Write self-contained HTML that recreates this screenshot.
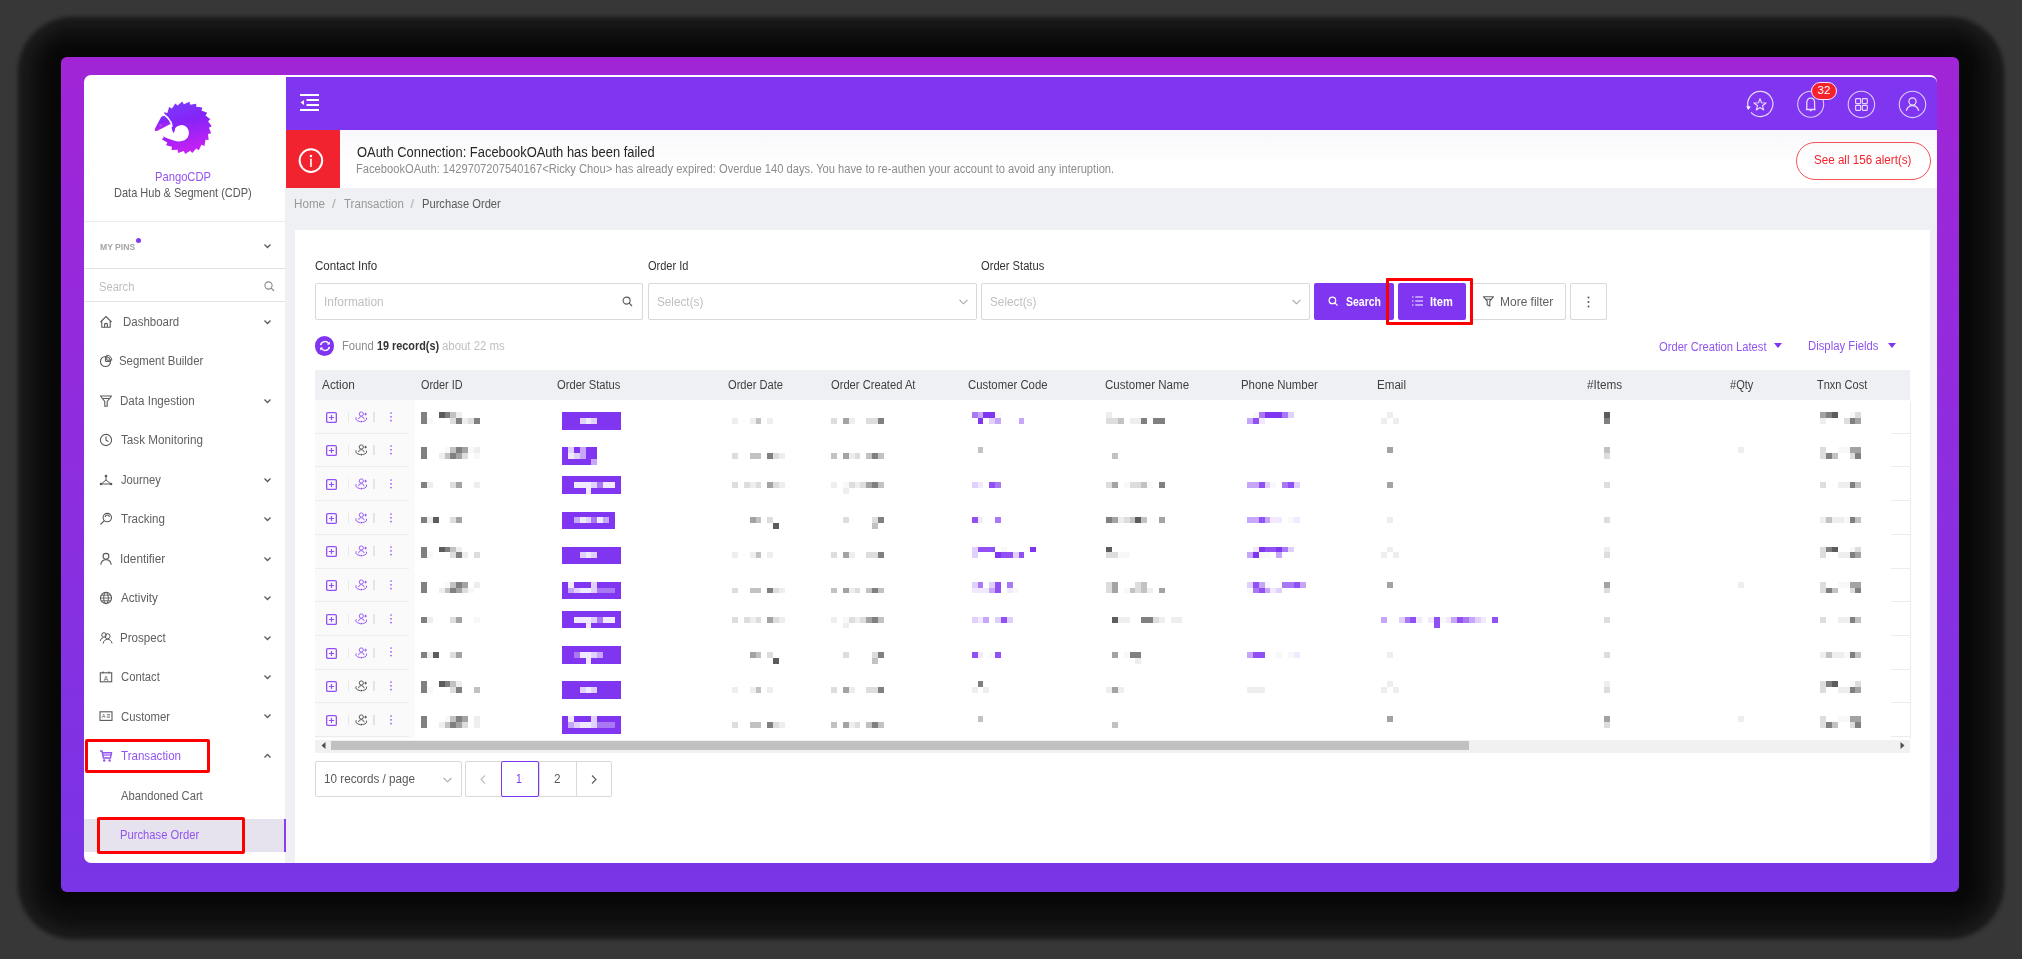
<!DOCTYPE html>
<html><head><meta charset="utf-8">
<style>
*{margin:0;padding:0;box-sizing:border-box}
html,body{width:2022px;height:959px;overflow:hidden;background:#373737;font-family:"Liberation Sans",sans-serif}
.abs{position:absolute}
.ic{position:absolute;overflow:visible}
.mi{position:absolute;font-size:12px;line-height:16px;white-space:nowrap;letter-spacing:-0.4px}
.th{position:absolute;font-size:12px;line-height:16px;color:#444;white-space:nowrap;letter-spacing:-0.1px}
.t{position:absolute;white-space:nowrap;transform-origin:0 0}
.mz{position:absolute}
</style></head><body>
<!-- shadow approximation -->
<div class="abs" style="left:18px;top:17px;width:1986px;height:922px;background:#1a1a1a;border-radius:55px;filter:blur(2px)"></div>
<div class="abs" style="left:30px;top:28px;width:1962px;height:900px;background:#0f0f0f;border-radius:45px;filter:blur(6px)"></div>
<div class="abs" style="left:45px;top:42px;width:1932px;height:866px;background:#070707;border-radius:25px;filter:blur(6px)"></div>
<!-- purple frame -->
<div class="abs" style="left:61px;top:57px;width:1898px;height:834.5px;border-radius:6px;background:linear-gradient(180deg,#a125d7 0%,#8d2edf 50%,#7935e6 100%)"></div>
<!-- white panel -->
<div class="abs" style="left:84px;top:75px;width:1853px;height:788px;border-radius:7px;background:#fff;overflow:hidden">
</div>
<!-- main content bg -->
<div class="abs" style="left:285px;top:188px;width:1652px;height:675px;background:#eff0f4;border-bottom-right-radius:7px"></div>
<!-- header -->
<div class="abs" style="left:286px;top:77px;width:1651px;height:53px;background:#8035f1;border-top-right-radius:6px"></div>
<!-- alert -->
<div class="abs" style="left:286px;top:130px;width:54px;height:58px;background:#f0232f"></div>
<div class="abs" style="left:340px;top:130px;width:1597px;height:58px;background:linear-gradient(180deg,#f8f8fb,#ffffff 60%)"></div>
<!-- card -->
<div class="abs" style="left:295px;top:230px;width:1635px;height:633px;background:#fff"></div>

<!-- header icons -->
<svg class="ic" style="left:300px;top:94px" width="20" height="17" viewBox="0 0 20 17">
  <path d="M0 1 H19 M6.5 6 H19 M6.5 11 H19 M0 16 H19" stroke="#fff" stroke-width="1.8"/>
  <path d="M0.5 8.5 L4 6 V11 Z" fill="#fff"/>
</svg>
<svg class="ic" style="left:1745px;top:90.2px" width="30" height="30" viewBox="0 0 30 30">
  <path d="M3.4 18 A12.6 12.6 0 1 1 6.0 22.4" fill="none" stroke="#e6dafc" stroke-width="1.2"/>
  <path d="M1.2 16.2 L5.8 16.6 L3.2 20 Z" fill="#fff"/>
  <path d="M15.00 8.60 L16.53 12.80 L20.99 12.95 L17.47 15.70 L18.70 20.00 L15.00 17.50 L11.30 20.00 L12.53 15.70 L9.01 12.95 L13.47 12.80 Z" fill="none" stroke="#e6dafc" stroke-width="1.1" stroke-linejoin="round"/>
</svg>
<svg class="ic" style="left:1796px;top:89px" width="30" height="30" viewBox="0 0 30 30">
  <circle cx="14.7" cy="15.2" r="13" fill="none" stroke="#dccdfb" stroke-width="1.1"/>
  <path d="M10.8 20.5 V14 Q10.8 9.2 14.7 9.2 Q18.6 9.2 18.6 14 V20.5 Z M9.8 20.5 H19.6 M13.7 21.6 H15.7" fill="none" stroke="#e4d8fc" stroke-width="1.3" stroke-linejoin="round"/>
</svg>
<div class="abs" style="left:1811px;top:82px;width:26px;height:17.5px;border-radius:9px;background:#f5222d;border:1px solid #f2e8ff;color:#fff;font-size:11.5px;line-height:15.5px;text-align:center">32</div>
<svg class="ic" style="left:1847px;top:90px" width="30" height="30" viewBox="0 0 30 30">
  <circle cx="14.4" cy="14.4" r="13.2" fill="none" stroke="#dccdfb" stroke-width="1.1"/>
  <rect x="8.6" y="8.6" width="5" height="5" rx="0.8" fill="none" stroke="#e4d8fc" stroke-width="1.2"/>
  <rect x="15.3" y="8.6" width="5" height="5" rx="0.8" fill="none" stroke="#e4d8fc" stroke-width="1.2"/>
  <rect x="8.6" y="15.3" width="5" height="5" rx="0.8" fill="none" stroke="#e4d8fc" stroke-width="1.2"/>
  <rect x="15.3" y="15.3" width="5" height="5" rx="0.8" fill="none" stroke="#e4d8fc" stroke-width="1.2"/>
</svg>
<svg class="ic" style="left:1898px;top:90px" width="30" height="30" viewBox="0 0 30 30">
  <circle cx="14.5" cy="14.4" r="13.2" fill="none" stroke="#dccdfb" stroke-width="1.1"/>
  <circle cx="14.5" cy="11.5" r="3.6" fill="none" stroke="#ece4fd" stroke-width="1.2"/>
  <path d="M8.3 20.8 Q9.5 15.6 14.5 15.6 Q19.5 15.6 20.7 20.8" fill="none" stroke="#ece4fd" stroke-width="1.2"/>
</svg>

<!-- alert content -->
<svg class="ic" style="left:298px;top:148px" width="26" height="26" viewBox="0 0 26 26">
  <circle cx="12.9" cy="12.6" r="11.3" fill="none" stroke="#fff" stroke-width="2"/>
  <rect x="12.15" y="10.7" width="1.6" height="8.3" fill="#fff"/>
  <circle cx="12.95" cy="7.9" r="1.25" fill="#fff"/>
</svg>
<div class="abs" style="left:1795.5px;top:142.3px;width:135px;height:37.5px;border:1px solid #f5535c;border-radius:19px;"></div>

<!-- breadcrumb -->

<!-- sidebar -->
<svg class="ic" style="left:148px;top:95px" width="70" height="65" viewBox="0 0 1033 959">
<defs><linearGradient id="lg" x1="0" y1="0" x2="0.25" y2="1"><stop offset="0" stop-color="#7a40fa"/><stop offset="0.45" stop-color="#8424f8"/><stop offset="1" stop-color="#c421f4"/></linearGradient></defs>
<path d="M899 482 L932 566 L886 575 L895 665 L849 662 L833 751 L789 735 L750 816 L712 789 L653 857 L623 821 L548 870 L529 827 L443 854 L437 808 L347 811 L353 765 L266 743 L285 700 L206 656 L236 620 L172 556 L210 529 L166 450 L210 435 L189 347 L236 344 L239 254 L285 264 L312 178 L353 199 L403 124 L437 156 L505 97 L529 137 L611 98 L623 143 L712 128 L712 175 L802 184 L789 229 L873 263 L849 302 L920 357 L886 389 L940 461 Z" fill="url(#lg)"/>
<path d="M 95 545 L 135 528 L 325 428 L 345 448 L 352 500 L 372 560 L 392 540 L 402 488 Q 430 448 495 444 Q 580 450 603 540 Q 612 625 540 668 Q 470 700 380 672 Q 260 640 170 575 Z" fill="#fff"/>
<path d="M 232 282 Q 300 330 338 405 Q 352 440 350 470" fill="none" stroke="#fff" stroke-width="26"/>
<path d="M 100 522 Q 96 500 112 478 L 192 330 Q 212 300 240 312 L 300 370 Q 330 405 322 428 L 140 528 Q 112 540 100 522 Z" fill="url(#lg)"/>
<circle cx="185" cy="445" r="14" fill="none" stroke="#c9a9fb" stroke-width="5"/>
</svg>
<div class="abs" style="left:84px;top:221px;width:201px;height:1px;background:#ebebeb"></div>
<div class="abs" style="left:135.5px;top:237.5px;width:5px;height:5px;border-radius:50%;background:#7f3af4"></div>
<svg class="ic" style="left:264px;top:243px" width="7" height="6" viewBox="0 0 7 6"><path d="M0.5 1.5 L3.5 4.5 L6.5 1.5" fill="none" stroke="#595959" stroke-width="1.3"/></svg>
<div class="abs" style="left:84px;top:268px;width:201px;height:1px;background:#e3e3e3"></div>
<svg class="ic" style="left:264px;top:281px" width="11" height="11" viewBox="0 0 11 11"><circle cx="4.5" cy="4.5" r="3.6" fill="none" stroke="#8c8c8c" stroke-width="1.1"/><path d="M7.2 7.2 L10 10" stroke="#8c8c8c" stroke-width="1.2"/></svg>
<div class="abs" style="left:84px;top:301px;width:201px;height:1px;background:#e3e3e3"></div>
<div class="abs" style="left:84px;top:818.5px;width:201px;height:33px;background:#e6e2ee"></div>
<div class="abs" style="left:283.5px;top:818.5px;width:2px;height:33px;background:#8b3cf0"></div>
<svg class="ic" style="left:99px;top:314.7px" width="14" height="14" viewBox="0 0 14 14"><path d="M1.5 7 L7 1.6 L12.5 7 M2.8 5.8 V12.3 H11.2 V5.8 M5.6 12.3 V9 Q7 7.6 8.4 9 V12.3" fill="none" stroke="#595959" stroke-width="1.1"/></svg>
<svg class="ic" style="left:264px;top:318.7px" width="7" height="6" viewBox="0 0 7 6"><path d="M0.5 1.5 L3.5 4.5 L6.5 1.5" fill="none" stroke="#595959" stroke-width="1.3"/></svg>
<svg class="ic" style="left:99px;top:354.2px" width="14" height="14" viewBox="0 0 14 14"><circle cx="6.5" cy="7.5" r="5" fill="none" stroke="#595959" stroke-width="1.1"/><path d="M6.5 7.5 V2.5 M6.5 7.5 H11.5" stroke="#595959" stroke-width="1.1"/><path d="M7.8 1.2 A5 5 0 0 1 12.8 6.2 H7.8 Z" fill="none" stroke="#595959" stroke-width="1"/></svg>
<svg class="ic" style="left:99px;top:393.6px" width="14" height="14" viewBox="0 0 14 14"><path d="M1.5 2 H12.5 L8.2 7.5 V12.2 H5.8 V7.5 Z M3.2 4.5 H10.8" fill="none" stroke="#595959" stroke-width="1.1" stroke-linejoin="round"/></svg>
<svg class="ic" style="left:264px;top:397.6px" width="7" height="6" viewBox="0 0 7 6"><path d="M0.5 1.5 L3.5 4.5 L6.5 1.5" fill="none" stroke="#595959" stroke-width="1.3"/></svg>
<svg class="ic" style="left:99px;top:433.1px" width="14" height="14" viewBox="0 0 14 14"><circle cx="7" cy="7" r="5.6" fill="none" stroke="#595959" stroke-width="1.1"/><path d="M7 3.6 V7.2 L9.4 8.6" fill="none" stroke="#595959" stroke-width="1.1"/></svg>
<svg class="ic" style="left:99px;top:472.6px" width="14" height="14" viewBox="0 0 14 14"><circle cx="7" cy="3" r="1.3" fill="#595959"/><circle cx="2" cy="11" r="1.3" fill="#595959"/><circle cx="12" cy="11" r="1.3" fill="#595959"/><path d="M7 3 V7 L2 11 M7 7 L12 11 M3 11 H11" fill="none" stroke="#595959" stroke-width="1"/></svg>
<svg class="ic" style="left:264px;top:476.6px" width="7" height="6" viewBox="0 0 7 6"><path d="M0.5 1.5 L3.5 4.5 L6.5 1.5" fill="none" stroke="#595959" stroke-width="1.3"/></svg>
<svg class="ic" style="left:99px;top:512.0px" width="14" height="14" viewBox="0 0 14 14"><circle cx="8.3" cy="5.6" r="4.2" fill="none" stroke="#595959" stroke-width="1.1"/><path d="M5.3 8.6 L1.5 12.5 M6.3 5 A2 2 0 0 1 10.3 5" fill="none" stroke="#595959" stroke-width="1.1"/></svg>
<svg class="ic" style="left:264px;top:516.0px" width="7" height="6" viewBox="0 0 7 6"><path d="M0.5 1.5 L3.5 4.5 L6.5 1.5" fill="none" stroke="#595959" stroke-width="1.3"/></svg>
<svg class="ic" style="left:99px;top:551.5px" width="14" height="14" viewBox="0 0 14 14"><circle cx="7" cy="4.3" r="2.9" fill="none" stroke="#595959" stroke-width="1.1"/><path d="M1.8 12.8 Q2.3 7.8 7 7.8 Q11.7 7.8 12.2 12.8" fill="none" stroke="#595959" stroke-width="1.1"/></svg>
<svg class="ic" style="left:264px;top:555.5px" width="7" height="6" viewBox="0 0 7 6"><path d="M0.5 1.5 L3.5 4.5 L6.5 1.5" fill="none" stroke="#595959" stroke-width="1.3"/></svg>
<svg class="ic" style="left:99px;top:591.0px" width="14" height="14" viewBox="0 0 14 14"><circle cx="7" cy="7" r="5.6" fill="none" stroke="#595959" stroke-width="1.1"/><ellipse cx="7" cy="7" rx="2.3" ry="5.6" fill="none" stroke="#595959" stroke-width="1"/><path d="M1.4 7 H12.6 M2.2 4.2 H11.8 M2.2 9.8 H11.8" stroke="#595959" stroke-width="0.9"/></svg>
<svg class="ic" style="left:264px;top:595.0px" width="7" height="6" viewBox="0 0 7 6"><path d="M0.5 1.5 L3.5 4.5 L6.5 1.5" fill="none" stroke="#595959" stroke-width="1.3"/></svg>
<svg class="ic" style="left:99px;top:630.5px" width="14" height="14" viewBox="0 0 14 14"><circle cx="5" cy="4" r="2.3" fill="none" stroke="#595959" stroke-width="1"/><circle cx="8.6" cy="5.2" r="2.5" fill="none" stroke="#595959" stroke-width="1"/><path d="M1.2 10 Q1.8 6.8 4.3 6.7 M4.2 12.5 Q4.8 8.4 8.6 8.4 Q12.4 8.4 13 12.5" fill="none" stroke="#595959" stroke-width="1"/></svg>
<svg class="ic" style="left:264px;top:634.5px" width="7" height="6" viewBox="0 0 7 6"><path d="M0.5 1.5 L3.5 4.5 L6.5 1.5" fill="none" stroke="#595959" stroke-width="1.3"/></svg>
<svg class="ic" style="left:99px;top:669.9px" width="14" height="14" viewBox="0 0 14 14"><rect x="1.3" y="2.8" width="11.4" height="9" fill="none" stroke="#595959" stroke-width="1.1"/><path d="M4 1.5 V3.5 M10 1.5 V3.5" stroke="#595959" stroke-width="1.1"/><text x="7" y="10.6" font-size="6.5" text-anchor="middle" fill="#595959" font-family="Liberation Sans">A</text></svg>
<svg class="ic" style="left:264px;top:673.9px" width="7" height="6" viewBox="0 0 7 6"><path d="M0.5 1.5 L3.5 4.5 L6.5 1.5" fill="none" stroke="#595959" stroke-width="1.3"/></svg>
<svg class="ic" style="left:99px;top:709.4px" width="14" height="14" viewBox="0 0 14 14"><rect x="1" y="2.8" width="12" height="8.6" fill="none" stroke="#595959" stroke-width="1.1"/><text x="4.7" y="9.4" font-size="5.5" text-anchor="middle" fill="#595959" font-family="Liberation Sans">A</text><path d="M7.8 5.8 H11 M7.8 8 H11" stroke="#595959" stroke-width="0.9"/></svg>
<svg class="ic" style="left:264px;top:713.4px" width="7" height="6" viewBox="0 0 7 6"><path d="M0.5 1.5 L3.5 4.5 L6.5 1.5" fill="none" stroke="#595959" stroke-width="1.3"/></svg>
<svg class="ic" style="left:99px;top:748.9px" width="14" height="14" viewBox="0 0 14 14"><path d="M1 2 H3 L4.4 9 H11.4 L12.6 3.8 H3.6" fill="none" stroke="#9254f0" stroke-width="1.4" stroke-linejoin="round"/><path d="M4 6 H12" stroke="#9254f0" stroke-width="1.2"/><circle cx="5.2" cy="11.5" r="1.2" fill="#9254f0"/><circle cx="10.6" cy="11.5" r="1.2" fill="#9254f0"/></svg>
<svg class="ic" style="left:264px;top:752.9px" width="7" height="6" viewBox="0 0 7 6"><path d="M0.5 4.5 L3.5 1.5 L6.5 4.5" fill="none" stroke="#595959" stroke-width="1.3"/></svg>
<!-- red boxes -->
<div class="abs" style="left:84.5px;top:739px;width:125px;height:34px;border:3px solid #ff0000;border-radius:2px"></div>
<div class="abs" style="left:96.5px;top:816.5px;width:148px;height:37px;border:3px solid #ff0000;border-radius:2px"></div>

<!-- filter row -->
<div class="abs" style="left:315px;top:283px;width:328px;height:36.5px;border:1px solid #d9d9d9;border-radius:2px"></div>
<svg class="ic" style="left:622px;top:296px" width="11" height="11" viewBox="0 0 11 11"><circle cx="4.6" cy="4.6" r="3.5" fill="none" stroke="#595959" stroke-width="1.1"/><path d="M7.2 7.2 L10 10" stroke="#595959" stroke-width="1.2"/></svg>
<div class="abs" style="left:648px;top:283px;width:328.5px;height:36.5px;border:1px solid #d9d9d9;border-radius:2px"></div>
<svg class="ic" style="left:958.5px;top:298.5px" width="9" height="6" viewBox="0 0 9 6"><path d="M0.5 0.8 L4.5 4.8 L8.5 0.8" fill="none" stroke="#a6a6a6" stroke-width="1.1"/></svg>
<div class="abs" style="left:981.3px;top:283px;width:329px;height:36.5px;border:1px solid #d9d9d9;border-radius:2px"></div>
<svg class="ic" style="left:1291.5px;top:298.5px" width="9" height="6" viewBox="0 0 9 6"><path d="M0.5 0.8 L4.5 4.8 L8.5 0.8" fill="none" stroke="#a6a6a6" stroke-width="1.1"/></svg>
<!-- buttons -->
<div class="abs" style="left:1314.2px;top:283px;width:79.5px;height:36.8px;background:#8035f1;border-radius:2px"></div>
<svg class="ic" style="left:1328px;top:296px" width="11" height="11" viewBox="0 0 11 11"><circle cx="4.4" cy="4.4" r="3.3" fill="none" stroke="#fff" stroke-width="1.2"/><path d="M6.9 6.9 L9.6 9.6" stroke="#fff" stroke-width="1.3"/></svg>
<div class="abs" style="left:1398px;top:283px;width:67.8px;height:36.8px;background:#8035f1;border-radius:2px"></div>
<svg class="ic" style="left:1411.5px;top:296px" width="12" height="10" viewBox="0 0 12 10"><path d="M0 1 H1.5 M0 5 H1.5 M0 9 H1.5 M3.3 1 H11 M3.3 5 H11 M3.3 9 H11" stroke="#fff" stroke-width="1.2"/></svg>
<div class="abs" style="left:1472px;top:283px;width:94px;height:36.8px;border:1px solid #d9d9d9;border-radius:2px;background:#fff"></div>
<svg class="ic" style="left:1482.5px;top:295.5px" width="11" height="11" viewBox="0 0 11 11"><path d="M0.6 0.8 H10.4 L6.8 5.2 V10 L4.2 8.8 V5.2 Z M2.6 3.2 H8.4" fill="none" stroke="#595959" stroke-width="1.1" stroke-linejoin="round"/></svg>
<div class="abs" style="left:1570.3px;top:283px;width:37px;height:36.8px;border:1px solid #d9d9d9;border-radius:2px;background:#fff"></div>
<svg class="ic" style="left:1587px;top:295.5px" width="3" height="12" viewBox="0 0 3 12"><circle cx="1.5" cy="1.4" r="1" fill="#595959"/><circle cx="1.5" cy="6" r="1" fill="#595959"/><circle cx="1.5" cy="10.6" r="1" fill="#595959"/></svg>
<div class="abs" style="left:1386.2px;top:278.2px;width:86.6px;height:46.7px;border:3.2px solid #ff0000;border-radius:1px"></div>

<!-- found row -->
<div class="abs" style="left:314.7px;top:335.8px;width:19.8px;height:19.8px;border-radius:50%;background:#8035f1"></div>
<svg class="ic" style="left:318.6px;top:339.7px" width="12" height="12" viewBox="0 0 12 12"><path d="M1.6 5.2 A4.5 4.5 0 0 1 10 4 M10.4 6.8 A4.5 4.5 0 0 1 2 8" fill="none" stroke="#fff" stroke-width="1.5"/><path d="M10.8 1.6 V4.6 H7.8 Z M1.2 10.4 V7.4 H4.2 Z" fill="#fff"/></svg>
<svg class="ic" style="left:1773.5px;top:343px" width="8" height="5" viewBox="0 0 8 5"><path d="M0 0 H8 L4 5 Z" fill="#8035f1"/></svg>
<svg class="ic" style="left:1887.5px;top:342.5px" width="8" height="5" viewBox="0 0 8 5"><path d="M0 0 H8 L4 5 Z" fill="#8035f1"/></svg>

<!-- table -->
<div class="abs" style="left:315px;top:369.5px;width:1595px;height:30.5px;background:#eff0f4"></div>
<div class="abs" style="left:315px;top:400.0px;width:100px;height:337.5px;background:#fafafa"></div>
<div class="abs" style="left:315px;top:432.7px;width:94px;height:1px;background:#ececec"></div>
<div class="abs" style="left:1891px;top:432.7px;width:19px;height:1px;background:#ececec"></div>
<svg class="ic" style="left:326px;top:411.7px" width="11" height="11" viewBox="0 0 11 11"><rect x="0.65" y="0.65" width="9.7" height="9.7" rx="1.2" fill="none" stroke="#9350f4" stroke-width="1.3"/><path d="M5.5 2.9 V8.1 M2.9 5.5 H8.1" stroke="#9350f4" stroke-width="1.2"/></svg>
<div class="abs" style="left:348px;top:411.6px;width:1px;height:10px;background:#e9e9e9"></div>
<svg class="ic" style="left:355px;top:410.7px" width="13" height="12" viewBox="0 0 13 12"><circle cx="6.3" cy="3" r="2.1" fill="none" stroke="#9350f4" stroke-width="0.9"/><path d="M3.4 8.2 Q3.9 5.6 6.3 5.6 Q8.7 5.6 9.2 8.2" fill="none" stroke="#9350f4" stroke-width="0.9"/><path d="M1.2 6.2 Q-0.4 9.6 5.2 10.6 M7.4 10.6 Q12.6 9.8 11.4 6.6" fill="none" stroke="#9350f4" stroke-width="0.9"/><circle cx="6.3" cy="10.6" r="0.9" fill="#9350f4"/><path d="M10.6 1.8 V4.4 M9.3 3.1 H11.9" stroke="#9350f4" stroke-width="0.9"/></svg>
<div class="abs" style="left:373.3px;top:411.6px;width:1.3px;height:10px;background:#e4e4e4"></div>
<svg class="ic" style="left:389.5px;top:411.5px" width="2" height="11" viewBox="0 0 2 11"><circle cx="1" cy="1" r="0.85" fill="#9350f4"/><circle cx="1" cy="4.8" r="0.85" fill="#9350f4"/><circle cx="1" cy="8.6" r="0.85" fill="#9350f4"/></svg>
<div class="abs" style="left:315px;top:466.4px;width:94px;height:1px;background:#ececec"></div>
<div class="abs" style="left:1891px;top:466.4px;width:19px;height:1px;background:#ececec"></div>
<svg class="ic" style="left:326px;top:445.4px" width="11" height="11" viewBox="0 0 11 11"><rect x="0.65" y="0.65" width="9.7" height="9.7" rx="1.2" fill="none" stroke="#9350f4" stroke-width="1.3"/><path d="M5.5 2.9 V8.1 M2.9 5.5 H8.1" stroke="#9350f4" stroke-width="1.2"/></svg>
<div class="abs" style="left:348px;top:445.2px;width:1px;height:10px;background:#e9e9e9"></div>
<svg class="ic" style="left:355px;top:444.4px" width="13" height="12" viewBox="0 0 13 12"><circle cx="6.3" cy="3" r="2.1" fill="none" stroke="#4a4a4a" stroke-width="0.9"/><path d="M3.4 8.2 Q3.9 5.6 6.3 5.6 Q8.7 5.6 9.2 8.2" fill="none" stroke="#4a4a4a" stroke-width="0.9"/><path d="M1.2 6.2 Q-0.4 9.6 5.2 10.6 M7.4 10.6 Q12.6 9.8 11.4 6.6" fill="none" stroke="#4a4a4a" stroke-width="0.9"/><circle cx="6.3" cy="10.6" r="0.9" fill="#4a4a4a"/><path d="M10.6 1.8 V4.4 M9.3 3.1 H11.9" stroke="#4a4a4a" stroke-width="0.9"/></svg>
<div class="abs" style="left:373.3px;top:445.2px;width:1.3px;height:10px;background:#e4e4e4"></div>
<svg class="ic" style="left:389.5px;top:445.2px" width="2" height="11" viewBox="0 0 2 11"><circle cx="1" cy="1" r="0.85" fill="#9350f4"/><circle cx="1" cy="4.8" r="0.85" fill="#9350f4"/><circle cx="1" cy="8.6" r="0.85" fill="#9350f4"/></svg>
<div class="abs" style="left:315px;top:500.1px;width:94px;height:1px;background:#ececec"></div>
<div class="abs" style="left:1891px;top:500.1px;width:19px;height:1px;background:#ececec"></div>
<svg class="ic" style="left:326px;top:479.1px" width="11" height="11" viewBox="0 0 11 11"><rect x="0.65" y="0.65" width="9.7" height="9.7" rx="1.2" fill="none" stroke="#9350f4" stroke-width="1.3"/><path d="M5.5 2.9 V8.1 M2.9 5.5 H8.1" stroke="#9350f4" stroke-width="1.2"/></svg>
<div class="abs" style="left:348px;top:478.9px;width:1px;height:10px;background:#e9e9e9"></div>
<svg class="ic" style="left:355px;top:478.1px" width="13" height="12" viewBox="0 0 13 12"><circle cx="6.3" cy="3" r="2.1" fill="none" stroke="#9350f4" stroke-width="0.9"/><path d="M3.4 8.2 Q3.9 5.6 6.3 5.6 Q8.7 5.6 9.2 8.2" fill="none" stroke="#9350f4" stroke-width="0.9"/><path d="M1.2 6.2 Q-0.4 9.6 5.2 10.6 M7.4 10.6 Q12.6 9.8 11.4 6.6" fill="none" stroke="#9350f4" stroke-width="0.9"/><circle cx="6.3" cy="10.6" r="0.9" fill="#9350f4"/><path d="M10.6 1.8 V4.4 M9.3 3.1 H11.9" stroke="#9350f4" stroke-width="0.9"/></svg>
<div class="abs" style="left:373.3px;top:478.9px;width:1.3px;height:10px;background:#e4e4e4"></div>
<svg class="ic" style="left:389.5px;top:478.9px" width="2" height="11" viewBox="0 0 2 11"><circle cx="1" cy="1" r="0.85" fill="#9350f4"/><circle cx="1" cy="4.8" r="0.85" fill="#9350f4"/><circle cx="1" cy="8.6" r="0.85" fill="#9350f4"/></svg>
<div class="abs" style="left:315px;top:533.8px;width:94px;height:1px;background:#ececec"></div>
<div class="abs" style="left:1891px;top:533.8px;width:19px;height:1px;background:#ececec"></div>
<svg class="ic" style="left:326px;top:512.8px" width="11" height="11" viewBox="0 0 11 11"><rect x="0.65" y="0.65" width="9.7" height="9.7" rx="1.2" fill="none" stroke="#9350f4" stroke-width="1.3"/><path d="M5.5 2.9 V8.1 M2.9 5.5 H8.1" stroke="#9350f4" stroke-width="1.2"/></svg>
<div class="abs" style="left:348px;top:512.7px;width:1px;height:10px;background:#e9e9e9"></div>
<svg class="ic" style="left:355px;top:511.8px" width="13" height="12" viewBox="0 0 13 12"><circle cx="6.3" cy="3" r="2.1" fill="none" stroke="#9350f4" stroke-width="0.9"/><path d="M3.4 8.2 Q3.9 5.6 6.3 5.6 Q8.7 5.6 9.2 8.2" fill="none" stroke="#9350f4" stroke-width="0.9"/><path d="M1.2 6.2 Q-0.4 9.6 5.2 10.6 M7.4 10.6 Q12.6 9.8 11.4 6.6" fill="none" stroke="#9350f4" stroke-width="0.9"/><circle cx="6.3" cy="10.6" r="0.9" fill="#9350f4"/><path d="M10.6 1.8 V4.4 M9.3 3.1 H11.9" stroke="#9350f4" stroke-width="0.9"/></svg>
<div class="abs" style="left:373.3px;top:512.7px;width:1.3px;height:10px;background:#e4e4e4"></div>
<svg class="ic" style="left:389.5px;top:512.6px" width="2" height="11" viewBox="0 0 2 11"><circle cx="1" cy="1" r="0.85" fill="#9350f4"/><circle cx="1" cy="4.8" r="0.85" fill="#9350f4"/><circle cx="1" cy="8.6" r="0.85" fill="#9350f4"/></svg>
<div class="abs" style="left:315px;top:567.5px;width:94px;height:1px;background:#ececec"></div>
<div class="abs" style="left:1891px;top:567.5px;width:19px;height:1px;background:#ececec"></div>
<svg class="ic" style="left:326px;top:546.4px" width="11" height="11" viewBox="0 0 11 11"><rect x="0.65" y="0.65" width="9.7" height="9.7" rx="1.2" fill="none" stroke="#9350f4" stroke-width="1.3"/><path d="M5.5 2.9 V8.1 M2.9 5.5 H8.1" stroke="#9350f4" stroke-width="1.2"/></svg>
<div class="abs" style="left:348px;top:546.4px;width:1px;height:10px;background:#e9e9e9"></div>
<svg class="ic" style="left:355px;top:545.4px" width="13" height="12" viewBox="0 0 13 12"><circle cx="6.3" cy="3" r="2.1" fill="none" stroke="#9350f4" stroke-width="0.9"/><path d="M3.4 8.2 Q3.9 5.6 6.3 5.6 Q8.7 5.6 9.2 8.2" fill="none" stroke="#9350f4" stroke-width="0.9"/><path d="M1.2 6.2 Q-0.4 9.6 5.2 10.6 M7.4 10.6 Q12.6 9.8 11.4 6.6" fill="none" stroke="#9350f4" stroke-width="0.9"/><circle cx="6.3" cy="10.6" r="0.9" fill="#9350f4"/><path d="M10.6 1.8 V4.4 M9.3 3.1 H11.9" stroke="#9350f4" stroke-width="0.9"/></svg>
<div class="abs" style="left:373.3px;top:546.4px;width:1.3px;height:10px;background:#e4e4e4"></div>
<svg class="ic" style="left:389.5px;top:546.2px" width="2" height="11" viewBox="0 0 2 11"><circle cx="1" cy="1" r="0.85" fill="#9350f4"/><circle cx="1" cy="4.8" r="0.85" fill="#9350f4"/><circle cx="1" cy="8.6" r="0.85" fill="#9350f4"/></svg>
<div class="abs" style="left:315px;top:601.2px;width:94px;height:1px;background:#ececec"></div>
<div class="abs" style="left:1891px;top:601.2px;width:19px;height:1px;background:#ececec"></div>
<svg class="ic" style="left:326px;top:580.1px" width="11" height="11" viewBox="0 0 11 11"><rect x="0.65" y="0.65" width="9.7" height="9.7" rx="1.2" fill="none" stroke="#9350f4" stroke-width="1.3"/><path d="M5.5 2.9 V8.1 M2.9 5.5 H8.1" stroke="#9350f4" stroke-width="1.2"/></svg>
<div class="abs" style="left:348px;top:580.1px;width:1px;height:10px;background:#e9e9e9"></div>
<svg class="ic" style="left:355px;top:579.1px" width="13" height="12" viewBox="0 0 13 12"><circle cx="6.3" cy="3" r="2.1" fill="none" stroke="#9350f4" stroke-width="0.9"/><path d="M3.4 8.2 Q3.9 5.6 6.3 5.6 Q8.7 5.6 9.2 8.2" fill="none" stroke="#9350f4" stroke-width="0.9"/><path d="M1.2 6.2 Q-0.4 9.6 5.2 10.6 M7.4 10.6 Q12.6 9.8 11.4 6.6" fill="none" stroke="#9350f4" stroke-width="0.9"/><circle cx="6.3" cy="10.6" r="0.9" fill="#9350f4"/><path d="M10.6 1.8 V4.4 M9.3 3.1 H11.9" stroke="#9350f4" stroke-width="0.9"/></svg>
<div class="abs" style="left:373.3px;top:580.1px;width:1.3px;height:10px;background:#e4e4e4"></div>
<svg class="ic" style="left:389.5px;top:580.0px" width="2" height="11" viewBox="0 0 2 11"><circle cx="1" cy="1" r="0.85" fill="#9350f4"/><circle cx="1" cy="4.8" r="0.85" fill="#9350f4"/><circle cx="1" cy="8.6" r="0.85" fill="#9350f4"/></svg>
<div class="abs" style="left:315px;top:634.9px;width:94px;height:1px;background:#ececec"></div>
<div class="abs" style="left:1891px;top:634.9px;width:19px;height:1px;background:#ececec"></div>
<svg class="ic" style="left:326px;top:613.9px" width="11" height="11" viewBox="0 0 11 11"><rect x="0.65" y="0.65" width="9.7" height="9.7" rx="1.2" fill="none" stroke="#9350f4" stroke-width="1.3"/><path d="M5.5 2.9 V8.1 M2.9 5.5 H8.1" stroke="#9350f4" stroke-width="1.2"/></svg>
<div class="abs" style="left:348px;top:613.8px;width:1px;height:10px;background:#e9e9e9"></div>
<svg class="ic" style="left:355px;top:612.9px" width="13" height="12" viewBox="0 0 13 12"><circle cx="6.3" cy="3" r="2.1" fill="none" stroke="#9350f4" stroke-width="0.9"/><path d="M3.4 8.2 Q3.9 5.6 6.3 5.6 Q8.7 5.6 9.2 8.2" fill="none" stroke="#9350f4" stroke-width="0.9"/><path d="M1.2 6.2 Q-0.4 9.6 5.2 10.6 M7.4 10.6 Q12.6 9.8 11.4 6.6" fill="none" stroke="#9350f4" stroke-width="0.9"/><circle cx="6.3" cy="10.6" r="0.9" fill="#9350f4"/><path d="M10.6 1.8 V4.4 M9.3 3.1 H11.9" stroke="#9350f4" stroke-width="0.9"/></svg>
<div class="abs" style="left:373.3px;top:613.8px;width:1.3px;height:10px;background:#e4e4e4"></div>
<svg class="ic" style="left:389.5px;top:613.7px" width="2" height="11" viewBox="0 0 2 11"><circle cx="1" cy="1" r="0.85" fill="#9350f4"/><circle cx="1" cy="4.8" r="0.85" fill="#9350f4"/><circle cx="1" cy="8.6" r="0.85" fill="#9350f4"/></svg>
<div class="abs" style="left:315px;top:668.6px;width:94px;height:1px;background:#ececec"></div>
<div class="abs" style="left:1891px;top:668.6px;width:19px;height:1px;background:#ececec"></div>
<svg class="ic" style="left:326px;top:647.6px" width="11" height="11" viewBox="0 0 11 11"><rect x="0.65" y="0.65" width="9.7" height="9.7" rx="1.2" fill="none" stroke="#9350f4" stroke-width="1.3"/><path d="M5.5 2.9 V8.1 M2.9 5.5 H8.1" stroke="#9350f4" stroke-width="1.2"/></svg>
<div class="abs" style="left:348px;top:647.5px;width:1px;height:10px;background:#e9e9e9"></div>
<svg class="ic" style="left:355px;top:646.6px" width="13" height="12" viewBox="0 0 13 12"><circle cx="6.3" cy="3" r="2.1" fill="none" stroke="#9350f4" stroke-width="0.9"/><path d="M3.4 8.2 Q3.9 5.6 6.3 5.6 Q8.7 5.6 9.2 8.2" fill="none" stroke="#9350f4" stroke-width="0.9"/><path d="M1.2 6.2 Q-0.4 9.6 5.2 10.6 M7.4 10.6 Q12.6 9.8 11.4 6.6" fill="none" stroke="#9350f4" stroke-width="0.9"/><circle cx="6.3" cy="10.6" r="0.9" fill="#9350f4"/><path d="M10.6 1.8 V4.4 M9.3 3.1 H11.9" stroke="#9350f4" stroke-width="0.9"/></svg>
<div class="abs" style="left:373.3px;top:647.5px;width:1.3px;height:10px;background:#e4e4e4"></div>
<svg class="ic" style="left:389.5px;top:647.4px" width="2" height="11" viewBox="0 0 2 11"><circle cx="1" cy="1" r="0.85" fill="#9350f4"/><circle cx="1" cy="4.8" r="0.85" fill="#9350f4"/><circle cx="1" cy="8.6" r="0.85" fill="#9350f4"/></svg>
<div class="abs" style="left:315px;top:702.3px;width:94px;height:1px;background:#ececec"></div>
<div class="abs" style="left:1891px;top:702.3px;width:19px;height:1px;background:#ececec"></div>
<svg class="ic" style="left:326px;top:681.2px" width="11" height="11" viewBox="0 0 11 11"><rect x="0.65" y="0.65" width="9.7" height="9.7" rx="1.2" fill="none" stroke="#9350f4" stroke-width="1.3"/><path d="M5.5 2.9 V8.1 M2.9 5.5 H8.1" stroke="#9350f4" stroke-width="1.2"/></svg>
<div class="abs" style="left:348px;top:681.2px;width:1px;height:10px;background:#e9e9e9"></div>
<svg class="ic" style="left:355px;top:680.2px" width="13" height="12" viewBox="0 0 13 12"><circle cx="6.3" cy="3" r="2.1" fill="none" stroke="#4a4a4a" stroke-width="0.9"/><path d="M3.4 8.2 Q3.9 5.6 6.3 5.6 Q8.7 5.6 9.2 8.2" fill="none" stroke="#4a4a4a" stroke-width="0.9"/><path d="M1.2 6.2 Q-0.4 9.6 5.2 10.6 M7.4 10.6 Q12.6 9.8 11.4 6.6" fill="none" stroke="#4a4a4a" stroke-width="0.9"/><circle cx="6.3" cy="10.6" r="0.9" fill="#4a4a4a"/><path d="M10.6 1.8 V4.4 M9.3 3.1 H11.9" stroke="#4a4a4a" stroke-width="0.9"/></svg>
<div class="abs" style="left:373.3px;top:681.2px;width:1.3px;height:10px;background:#e4e4e4"></div>
<svg class="ic" style="left:389.5px;top:681.1px" width="2" height="11" viewBox="0 0 2 11"><circle cx="1" cy="1" r="0.85" fill="#9350f4"/><circle cx="1" cy="4.8" r="0.85" fill="#9350f4"/><circle cx="1" cy="8.6" r="0.85" fill="#9350f4"/></svg>
<div class="abs" style="left:315px;top:736.0px;width:94px;height:1px;background:#ececec"></div>
<div class="abs" style="left:1891px;top:736.0px;width:19px;height:1px;background:#ececec"></div>
<svg class="ic" style="left:326px;top:714.9px" width="11" height="11" viewBox="0 0 11 11"><rect x="0.65" y="0.65" width="9.7" height="9.7" rx="1.2" fill="none" stroke="#9350f4" stroke-width="1.3"/><path d="M5.5 2.9 V8.1 M2.9 5.5 H8.1" stroke="#9350f4" stroke-width="1.2"/></svg>
<div class="abs" style="left:348px;top:714.9px;width:1px;height:10px;background:#e9e9e9"></div>
<svg class="ic" style="left:355px;top:713.9px" width="13" height="12" viewBox="0 0 13 12"><circle cx="6.3" cy="3" r="2.1" fill="none" stroke="#4a4a4a" stroke-width="0.9"/><path d="M3.4 8.2 Q3.9 5.6 6.3 5.6 Q8.7 5.6 9.2 8.2" fill="none" stroke="#4a4a4a" stroke-width="0.9"/><path d="M1.2 6.2 Q-0.4 9.6 5.2 10.6 M7.4 10.6 Q12.6 9.8 11.4 6.6" fill="none" stroke="#4a4a4a" stroke-width="0.9"/><circle cx="6.3" cy="10.6" r="0.9" fill="#4a4a4a"/><path d="M10.6 1.8 V4.4 M9.3 3.1 H11.9" stroke="#4a4a4a" stroke-width="0.9"/></svg>
<div class="abs" style="left:373.3px;top:714.9px;width:1.3px;height:10px;background:#e4e4e4"></div>
<svg class="ic" style="left:389.5px;top:714.8px" width="2" height="11" viewBox="0 0 2 11"><circle cx="1" cy="1" r="0.85" fill="#9350f4"/><circle cx="1" cy="4.8" r="0.85" fill="#9350f4"/><circle cx="1" cy="8.6" r="0.85" fill="#9350f4"/></svg>
<div class="mz" style="left:421px;top:412px;width:6px;height:6px;background:#808080"></div>
<div class="mz" style="left:439px;top:412px;width:6px;height:6px;background:#5c5c5c"></div>
<div class="mz" style="left:445px;top:412px;width:5px;height:6px;background:#808080"></div>
<div class="mz" style="left:450px;top:412px;width:6px;height:6px;background:#c2c2c2"></div>
<div class="mz" style="left:456px;top:412px;width:6px;height:6px;background:#eeeeee"></div>
<div class="mz" style="left:421px;top:418px;width:6px;height:6px;background:#808080"></div>
<div class="mz" style="left:427px;top:418px;width:6px;height:6px;background:#f8f8f8"></div>
<div class="mz" style="left:450px;top:418px;width:6px;height:6px;background:#dddddd"></div>
<div class="mz" style="left:456px;top:418px;width:6px;height:6px;background:#808080"></div>
<div class="mz" style="left:462px;top:418px;width:6px;height:6px;background:#eeeeee"></div>
<div class="mz" style="left:468px;top:418px;width:6px;height:6px;background:#dddddd"></div>
<div class="mz" style="left:474px;top:418px;width:6px;height:6px;background:#808080"></div>
<div class="mz" style="left:421px;top:447px;width:6px;height:6px;background:#808080"></div>
<div class="mz" style="left:445px;top:447px;width:5px;height:6px;background:#f8f8f8"></div>
<div class="mz" style="left:450px;top:447px;width:6px;height:6px;background:#c2c2c2"></div>
<div class="mz" style="left:456px;top:447px;width:6px;height:6px;background:#808080"></div>
<div class="mz" style="left:462px;top:447px;width:6px;height:6px;background:#a3a3a3"></div>
<div class="mz" style="left:468px;top:447px;width:6px;height:6px;background:#f8f8f8"></div>
<div class="mz" style="left:474px;top:447px;width:6px;height:6px;background:#eeeeee"></div>
<div class="mz" style="left:421px;top:453px;width:6px;height:6px;background:#808080"></div>
<div class="mz" style="left:439px;top:453px;width:6px;height:6px;background:#eeeeee"></div>
<div class="mz" style="left:445px;top:453px;width:5px;height:6px;background:#c2c2c2"></div>
<div class="mz" style="left:450px;top:453px;width:6px;height:6px;background:#808080"></div>
<div class="mz" style="left:456px;top:453px;width:6px;height:6px;background:#a3a3a3"></div>
<div class="mz" style="left:462px;top:453px;width:6px;height:6px;background:#dddddd"></div>
<div class="mz" style="left:474px;top:453px;width:6px;height:6px;background:#f8f8f8"></div>
<div class="mz" style="left:421px;top:482px;width:6px;height:6px;background:#808080"></div>
<div class="mz" style="left:427px;top:482px;width:6px;height:6px;background:#eeeeee"></div>
<div class="mz" style="left:450px;top:482px;width:6px;height:6px;background:#dddddd"></div>
<div class="mz" style="left:456px;top:482px;width:6px;height:6px;background:#a3a3a3"></div>
<div class="mz" style="left:474px;top:482px;width:6px;height:6px;background:#eeeeee"></div>
<div class="mz" style="left:421px;top:517px;width:6px;height:6px;background:#808080"></div>
<div class="mz" style="left:427px;top:517px;width:6px;height:6px;background:#eeeeee"></div>
<div class="mz" style="left:433px;top:517px;width:6px;height:6px;background:#5c5c5c"></div>
<div class="mz" style="left:450px;top:517px;width:6px;height:6px;background:#dddddd"></div>
<div class="mz" style="left:456px;top:517px;width:6px;height:6px;background:#a3a3a3"></div>
<div class="mz" style="left:421px;top:547px;width:6px;height:5px;background:#808080"></div>
<div class="mz" style="left:439px;top:547px;width:6px;height:5px;background:#5c5c5c"></div>
<div class="mz" style="left:445px;top:547px;width:5px;height:5px;background:#808080"></div>
<div class="mz" style="left:450px;top:547px;width:6px;height:5px;background:#c2c2c2"></div>
<div class="mz" style="left:456px;top:547px;width:6px;height:5px;background:#eeeeee"></div>
<div class="mz" style="left:421px;top:552px;width:6px;height:6px;background:#808080"></div>
<div class="mz" style="left:427px;top:552px;width:6px;height:6px;background:#f8f8f8"></div>
<div class="mz" style="left:450px;top:552px;width:6px;height:6px;background:#dddddd"></div>
<div class="mz" style="left:456px;top:552px;width:6px;height:6px;background:#808080"></div>
<div class="mz" style="left:462px;top:552px;width:6px;height:6px;background:#eeeeee"></div>
<div class="mz" style="left:474px;top:552px;width:6px;height:6px;background:#dddddd"></div>
<div class="mz" style="left:421px;top:582px;width:6px;height:6px;background:#808080"></div>
<div class="mz" style="left:445px;top:582px;width:5px;height:6px;background:#f8f8f8"></div>
<div class="mz" style="left:450px;top:582px;width:6px;height:6px;background:#c2c2c2"></div>
<div class="mz" style="left:456px;top:582px;width:6px;height:6px;background:#808080"></div>
<div class="mz" style="left:462px;top:582px;width:6px;height:6px;background:#a3a3a3"></div>
<div class="mz" style="left:474px;top:582px;width:6px;height:6px;background:#eeeeee"></div>
<div class="mz" style="left:421px;top:588px;width:6px;height:5px;background:#808080"></div>
<div class="mz" style="left:439px;top:588px;width:6px;height:5px;background:#eeeeee"></div>
<div class="mz" style="left:445px;top:588px;width:5px;height:5px;background:#c2c2c2"></div>
<div class="mz" style="left:450px;top:588px;width:6px;height:5px;background:#808080"></div>
<div class="mz" style="left:456px;top:588px;width:6px;height:5px;background:#a3a3a3"></div>
<div class="mz" style="left:462px;top:588px;width:6px;height:5px;background:#dddddd"></div>
<div class="mz" style="left:468px;top:588px;width:6px;height:5px;background:#f8f8f8"></div>
<div class="mz" style="left:421px;top:617px;width:6px;height:6px;background:#808080"></div>
<div class="mz" style="left:427px;top:617px;width:6px;height:6px;background:#eeeeee"></div>
<div class="mz" style="left:450px;top:617px;width:6px;height:6px;background:#dddddd"></div>
<div class="mz" style="left:456px;top:617px;width:6px;height:6px;background:#a3a3a3"></div>
<div class="mz" style="left:474px;top:617px;width:6px;height:6px;background:#f8f8f8"></div>
<div class="mz" style="left:421px;top:652px;width:6px;height:6px;background:#808080"></div>
<div class="mz" style="left:427px;top:652px;width:6px;height:6px;background:#eeeeee"></div>
<div class="mz" style="left:433px;top:652px;width:6px;height:6px;background:#5c5c5c"></div>
<div class="mz" style="left:450px;top:652px;width:6px;height:6px;background:#dddddd"></div>
<div class="mz" style="left:456px;top:652px;width:6px;height:6px;background:#a3a3a3"></div>
<div class="mz" style="left:421px;top:681px;width:6px;height:6px;background:#808080"></div>
<div class="mz" style="left:439px;top:681px;width:6px;height:6px;background:#5c5c5c"></div>
<div class="mz" style="left:445px;top:681px;width:5px;height:6px;background:#808080"></div>
<div class="mz" style="left:450px;top:681px;width:6px;height:6px;background:#c2c2c2"></div>
<div class="mz" style="left:456px;top:681px;width:6px;height:6px;background:#eeeeee"></div>
<div class="mz" style="left:421px;top:687px;width:6px;height:6px;background:#808080"></div>
<div class="mz" style="left:427px;top:687px;width:6px;height:6px;background:#f8f8f8"></div>
<div class="mz" style="left:450px;top:687px;width:6px;height:6px;background:#dddddd"></div>
<div class="mz" style="left:456px;top:687px;width:6px;height:6px;background:#808080"></div>
<div class="mz" style="left:474px;top:687px;width:6px;height:6px;background:#c2c2c2"></div>
<div class="mz" style="left:421px;top:716px;width:6px;height:6px;background:#808080"></div>
<div class="mz" style="left:445px;top:716px;width:5px;height:6px;background:#f8f8f8"></div>
<div class="mz" style="left:450px;top:716px;width:6px;height:6px;background:#c2c2c2"></div>
<div class="mz" style="left:456px;top:716px;width:6px;height:6px;background:#808080"></div>
<div class="mz" style="left:462px;top:716px;width:6px;height:6px;background:#a3a3a3"></div>
<div class="mz" style="left:474px;top:716px;width:6px;height:6px;background:#eeeeee"></div>
<div class="mz" style="left:421px;top:722px;width:6px;height:6px;background:#808080"></div>
<div class="mz" style="left:439px;top:722px;width:6px;height:6px;background:#eeeeee"></div>
<div class="mz" style="left:445px;top:722px;width:5px;height:6px;background:#c2c2c2"></div>
<div class="mz" style="left:450px;top:722px;width:6px;height:6px;background:#808080"></div>
<div class="mz" style="left:456px;top:722px;width:6px;height:6px;background:#a3a3a3"></div>
<div class="mz" style="left:462px;top:722px;width:6px;height:6px;background:#dddddd"></div>
<div class="mz" style="left:474px;top:722px;width:6px;height:6px;background:#eeeeee"></div>
<div class="mz" style="left:562px;top:412px;width:59px;height:6px;background:#8035f1"></div>
<div class="mz" style="left:562px;top:418px;width:18px;height:6px;background:#8035f1"></div>
<div class="mz" style="left:580px;top:418px;width:6px;height:6px;background:#dfd0fc"></div>
<div class="mz" style="left:586px;top:418px;width:5px;height:6px;background:#f1eafe"></div>
<div class="mz" style="left:591px;top:418px;width:6px;height:6px;background:#dfd0fc"></div>
<div class="mz" style="left:597px;top:418px;width:24px;height:6px;background:#8035f1"></div>
<div class="mz" style="left:562px;top:424px;width:59px;height:6px;background:#8035f1"></div>
<div class="mz" style="left:562px;top:447px;width:6px;height:6px;background:#8035f1"></div>
<div class="mz" style="left:568px;top:447px;width:6px;height:6px;background:#dfd0fc"></div>
<div class="mz" style="left:574px;top:447px;width:6px;height:6px;background:#8035f1"></div>
<div class="mz" style="left:580px;top:447px;width:6px;height:6px;background:#c6a6f8"></div>
<div class="mz" style="left:586px;top:447px;width:11px;height:6px;background:#8035f1"></div>
<div class="mz" style="left:562px;top:453px;width:6px;height:6px;background:#8035f1"></div>
<div class="mz" style="left:568px;top:453px;width:6px;height:6px;background:#f1eafe"></div>
<div class="mz" style="left:574px;top:453px;width:6px;height:6px;background:#dfd0fc"></div>
<div class="mz" style="left:580px;top:453px;width:6px;height:6px;background:#c6a6f8"></div>
<div class="mz" style="left:586px;top:453px;width:11px;height:6px;background:#8035f1"></div>
<div class="mz" style="left:562px;top:459px;width:29px;height:6px;background:#8035f1"></div>
<div class="mz" style="left:591px;top:459px;width:6px;height:6px;background:#c6a6f8"></div>
<div class="mz" style="left:562px;top:476px;width:59px;height:6px;background:#8035f1"></div>
<div class="mz" style="left:562px;top:482px;width:12px;height:6px;background:#8035f1"></div>
<div class="mz" style="left:574px;top:482px;width:17px;height:6px;background:#f1eafe"></div>
<div class="mz" style="left:591px;top:482px;width:6px;height:6px;background:#dfd0fc"></div>
<div class="mz" style="left:597px;top:482px;width:6px;height:6px;background:#a878f5"></div>
<div class="mz" style="left:603px;top:482px;width:12px;height:6px;background:#f1eafe"></div>
<div class="mz" style="left:615px;top:482px;width:6px;height:6px;background:#8035f1"></div>
<div class="mz" style="left:562px;top:488px;width:24px;height:6px;background:#8035f1"></div>
<div class="mz" style="left:586px;top:488px;width:5px;height:6px;background:#f1eafe"></div>
<div class="mz" style="left:591px;top:488px;width:30px;height:6px;background:#8035f1"></div>
<div class="mz" style="left:562px;top:512px;width:53px;height:5px;background:#8035f1"></div>
<div class="mz" style="left:562px;top:517px;width:12px;height:6px;background:#8035f1"></div>
<div class="mz" style="left:574px;top:517px;width:6px;height:6px;background:#c6a6f8"></div>
<div class="mz" style="left:580px;top:517px;width:6px;height:6px;background:#f1eafe"></div>
<div class="mz" style="left:586px;top:517px;width:5px;height:6px;background:#dfd0fc"></div>
<div class="mz" style="left:591px;top:517px;width:6px;height:6px;background:#a878f5"></div>
<div class="mz" style="left:597px;top:517px;width:6px;height:6px;background:#f1eafe"></div>
<div class="mz" style="left:603px;top:517px;width:6px;height:6px;background:#c6a6f8"></div>
<div class="mz" style="left:609px;top:517px;width:6px;height:6px;background:#8035f1"></div>
<div class="mz" style="left:562px;top:523px;width:53px;height:6px;background:#8035f1"></div>
<div class="mz" style="left:562px;top:547px;width:59px;height:5px;background:#8035f1"></div>
<div class="mz" style="left:562px;top:552px;width:18px;height:6px;background:#8035f1"></div>
<div class="mz" style="left:580px;top:552px;width:6px;height:6px;background:#dfd0fc"></div>
<div class="mz" style="left:586px;top:552px;width:5px;height:6px;background:#f1eafe"></div>
<div class="mz" style="left:591px;top:552px;width:6px;height:6px;background:#dfd0fc"></div>
<div class="mz" style="left:597px;top:552px;width:24px;height:6px;background:#8035f1"></div>
<div class="mz" style="left:562px;top:558px;width:59px;height:6px;background:#8035f1"></div>
<div class="mz" style="left:562px;top:582px;width:6px;height:6px;background:#8035f1"></div>
<div class="mz" style="left:568px;top:582px;width:6px;height:6px;background:#f1eafe"></div>
<div class="mz" style="left:574px;top:582px;width:17px;height:6px;background:#8035f1"></div>
<div class="mz" style="left:591px;top:582px;width:6px;height:6px;background:#dfd0fc"></div>
<div class="mz" style="left:597px;top:582px;width:24px;height:6px;background:#8035f1"></div>
<div class="mz" style="left:562px;top:588px;width:6px;height:5px;background:#8035f1"></div>
<div class="mz" style="left:568px;top:588px;width:6px;height:5px;background:#c6a6f8"></div>
<div class="mz" style="left:574px;top:588px;width:6px;height:5px;background:#dfd0fc"></div>
<div class="mz" style="left:580px;top:588px;width:11px;height:5px;background:#f1eafe"></div>
<div class="mz" style="left:591px;top:588px;width:6px;height:5px;background:#dfd0fc"></div>
<div class="mz" style="left:597px;top:588px;width:18px;height:5px;background:#a878f5"></div>
<div class="mz" style="left:615px;top:588px;width:6px;height:5px;background:#8035f1"></div>
<div class="mz" style="left:562px;top:593px;width:59px;height:6px;background:#8035f1"></div>
<div class="mz" style="left:562px;top:611px;width:59px;height:6px;background:#8035f1"></div>
<div class="mz" style="left:562px;top:617px;width:12px;height:6px;background:#8035f1"></div>
<div class="mz" style="left:574px;top:617px;width:17px;height:6px;background:#f1eafe"></div>
<div class="mz" style="left:591px;top:617px;width:6px;height:6px;background:#dfd0fc"></div>
<div class="mz" style="left:597px;top:617px;width:6px;height:6px;background:#a878f5"></div>
<div class="mz" style="left:603px;top:617px;width:12px;height:6px;background:#f1eafe"></div>
<div class="mz" style="left:615px;top:617px;width:6px;height:6px;background:#8035f1"></div>
<div class="mz" style="left:562px;top:623px;width:24px;height:5px;background:#8035f1"></div>
<div class="mz" style="left:586px;top:623px;width:5px;height:5px;background:#f1eafe"></div>
<div class="mz" style="left:591px;top:623px;width:30px;height:5px;background:#8035f1"></div>
<div class="mz" style="left:562px;top:646px;width:59px;height:6px;background:#8035f1"></div>
<div class="mz" style="left:562px;top:652px;width:12px;height:6px;background:#8035f1"></div>
<div class="mz" style="left:574px;top:652px;width:6px;height:6px;background:#a878f5"></div>
<div class="mz" style="left:580px;top:652px;width:11px;height:6px;background:#f1eafe"></div>
<div class="mz" style="left:591px;top:652px;width:6px;height:6px;background:#dfd0fc"></div>
<div class="mz" style="left:597px;top:652px;width:6px;height:6px;background:#c6a6f8"></div>
<div class="mz" style="left:603px;top:652px;width:18px;height:6px;background:#8035f1"></div>
<div class="mz" style="left:562px;top:658px;width:24px;height:6px;background:#8035f1"></div>
<div class="mz" style="left:586px;top:658px;width:5px;height:6px;background:#f1eafe"></div>
<div class="mz" style="left:591px;top:658px;width:30px;height:6px;background:#8035f1"></div>
<div class="mz" style="left:562px;top:681px;width:59px;height:6px;background:#8035f1"></div>
<div class="mz" style="left:562px;top:687px;width:18px;height:6px;background:#8035f1"></div>
<div class="mz" style="left:580px;top:687px;width:6px;height:6px;background:#dfd0fc"></div>
<div class="mz" style="left:586px;top:687px;width:5px;height:6px;background:#f1eafe"></div>
<div class="mz" style="left:591px;top:687px;width:6px;height:6px;background:#dfd0fc"></div>
<div class="mz" style="left:597px;top:687px;width:24px;height:6px;background:#8035f1"></div>
<div class="mz" style="left:562px;top:693px;width:59px;height:6px;background:#8035f1"></div>
<div class="mz" style="left:562px;top:716px;width:6px;height:6px;background:#8035f1"></div>
<div class="mz" style="left:568px;top:716px;width:6px;height:6px;background:#f1eafe"></div>
<div class="mz" style="left:574px;top:716px;width:17px;height:6px;background:#8035f1"></div>
<div class="mz" style="left:591px;top:716px;width:6px;height:6px;background:#dfd0fc"></div>
<div class="mz" style="left:597px;top:716px;width:24px;height:6px;background:#8035f1"></div>
<div class="mz" style="left:562px;top:722px;width:6px;height:6px;background:#8035f1"></div>
<div class="mz" style="left:568px;top:722px;width:6px;height:6px;background:#c6a6f8"></div>
<div class="mz" style="left:574px;top:722px;width:6px;height:6px;background:#dfd0fc"></div>
<div class="mz" style="left:580px;top:722px;width:11px;height:6px;background:#f1eafe"></div>
<div class="mz" style="left:591px;top:722px;width:6px;height:6px;background:#dfd0fc"></div>
<div class="mz" style="left:597px;top:722px;width:18px;height:6px;background:#a878f5"></div>
<div class="mz" style="left:615px;top:722px;width:6px;height:6px;background:#8035f1"></div>
<div class="mz" style="left:562px;top:728px;width:59px;height:6px;background:#8035f1"></div>
<div class="mz" style="left:732px;top:418px;width:6px;height:6px;background:#eeeeee"></div>
<div class="mz" style="left:750px;top:418px;width:6px;height:6px;background:#eeeeee"></div>
<div class="mz" style="left:756px;top:418px;width:5px;height:6px;background:#c2c2c2"></div>
<div class="mz" style="left:767px;top:418px;width:6px;height:6px;background:#eeeeee"></div>
<div class="mz" style="left:732px;top:453px;width:6px;height:6px;background:#dddddd"></div>
<div class="mz" style="left:750px;top:453px;width:11px;height:6px;background:#c2c2c2"></div>
<div class="mz" style="left:767px;top:453px;width:6px;height:6px;background:#808080"></div>
<div class="mz" style="left:773px;top:453px;width:6px;height:6px;background:#dddddd"></div>
<div class="mz" style="left:779px;top:453px;width:6px;height:6px;background:#eeeeee"></div>
<div class="mz" style="left:732px;top:482px;width:6px;height:6px;background:#dddddd"></div>
<div class="mz" style="left:744px;top:482px;width:6px;height:6px;background:#dddddd"></div>
<div class="mz" style="left:750px;top:482px;width:6px;height:6px;background:#eeeeee"></div>
<div class="mz" style="left:756px;top:482px;width:5px;height:6px;background:#dddddd"></div>
<div class="mz" style="left:767px;top:482px;width:6px;height:6px;background:#a3a3a3"></div>
<div class="mz" style="left:773px;top:482px;width:6px;height:6px;background:#dddddd"></div>
<div class="mz" style="left:779px;top:482px;width:6px;height:6px;background:#eeeeee"></div>
<div class="mz" style="left:750px;top:517px;width:6px;height:6px;background:#a3a3a3"></div>
<div class="mz" style="left:756px;top:517px;width:5px;height:6px;background:#c2c2c2"></div>
<div class="mz" style="left:767px;top:517px;width:6px;height:6px;background:#dddddd"></div>
<div class="mz" style="left:773px;top:523px;width:6px;height:6px;background:#5c5c5c"></div>
<div class="mz" style="left:732px;top:552px;width:6px;height:6px;background:#eeeeee"></div>
<div class="mz" style="left:750px;top:552px;width:6px;height:6px;background:#eeeeee"></div>
<div class="mz" style="left:756px;top:552px;width:5px;height:6px;background:#c2c2c2"></div>
<div class="mz" style="left:767px;top:552px;width:6px;height:6px;background:#eeeeee"></div>
<div class="mz" style="left:732px;top:588px;width:6px;height:5px;background:#dddddd"></div>
<div class="mz" style="left:750px;top:588px;width:11px;height:5px;background:#c2c2c2"></div>
<div class="mz" style="left:767px;top:588px;width:6px;height:5px;background:#808080"></div>
<div class="mz" style="left:773px;top:588px;width:6px;height:5px;background:#dddddd"></div>
<div class="mz" style="left:779px;top:588px;width:6px;height:5px;background:#eeeeee"></div>
<div class="mz" style="left:732px;top:617px;width:6px;height:6px;background:#dddddd"></div>
<div class="mz" style="left:744px;top:617px;width:6px;height:6px;background:#dddddd"></div>
<div class="mz" style="left:750px;top:617px;width:6px;height:6px;background:#eeeeee"></div>
<div class="mz" style="left:756px;top:617px;width:5px;height:6px;background:#dddddd"></div>
<div class="mz" style="left:767px;top:617px;width:6px;height:6px;background:#a3a3a3"></div>
<div class="mz" style="left:773px;top:617px;width:6px;height:6px;background:#dddddd"></div>
<div class="mz" style="left:779px;top:617px;width:6px;height:6px;background:#eeeeee"></div>
<div class="mz" style="left:750px;top:652px;width:6px;height:6px;background:#a3a3a3"></div>
<div class="mz" style="left:756px;top:652px;width:5px;height:6px;background:#c2c2c2"></div>
<div class="mz" style="left:767px;top:652px;width:6px;height:6px;background:#dddddd"></div>
<div class="mz" style="left:773px;top:658px;width:6px;height:6px;background:#5c5c5c"></div>
<div class="mz" style="left:732px;top:687px;width:6px;height:6px;background:#eeeeee"></div>
<div class="mz" style="left:750px;top:687px;width:6px;height:6px;background:#eeeeee"></div>
<div class="mz" style="left:756px;top:687px;width:5px;height:6px;background:#c2c2c2"></div>
<div class="mz" style="left:767px;top:687px;width:6px;height:6px;background:#eeeeee"></div>
<div class="mz" style="left:732px;top:722px;width:6px;height:6px;background:#dddddd"></div>
<div class="mz" style="left:750px;top:722px;width:11px;height:6px;background:#c2c2c2"></div>
<div class="mz" style="left:767px;top:722px;width:6px;height:6px;background:#808080"></div>
<div class="mz" style="left:773px;top:722px;width:6px;height:6px;background:#dddddd"></div>
<div class="mz" style="left:779px;top:722px;width:6px;height:6px;background:#eeeeee"></div>
<div class="mz" style="left:831px;top:418px;width:6px;height:6px;background:#dddddd"></div>
<div class="mz" style="left:843px;top:418px;width:6px;height:6px;background:#a3a3a3"></div>
<div class="mz" style="left:849px;top:418px;width:6px;height:6px;background:#eeeeee"></div>
<div class="mz" style="left:866px;top:418px;width:12px;height:6px;background:#dddddd"></div>
<div class="mz" style="left:878px;top:418px;width:6px;height:6px;background:#808080"></div>
<div class="mz" style="left:831px;top:453px;width:6px;height:6px;background:#c2c2c2"></div>
<div class="mz" style="left:843px;top:453px;width:6px;height:6px;background:#a3a3a3"></div>
<div class="mz" style="left:849px;top:453px;width:6px;height:6px;background:#eeeeee"></div>
<div class="mz" style="left:855px;top:453px;width:5px;height:6px;background:#dddddd"></div>
<div class="mz" style="left:866px;top:453px;width:6px;height:6px;background:#c2c2c2"></div>
<div class="mz" style="left:872px;top:453px;width:6px;height:6px;background:#808080"></div>
<div class="mz" style="left:878px;top:453px;width:6px;height:6px;background:#c2c2c2"></div>
<div class="mz" style="left:831px;top:482px;width:6px;height:6px;background:#eeeeee"></div>
<div class="mz" style="left:843px;top:482px;width:6px;height:6px;background:#f8f8f8"></div>
<div class="mz" style="left:849px;top:482px;width:6px;height:6px;background:#dddddd"></div>
<div class="mz" style="left:855px;top:482px;width:5px;height:6px;background:#eeeeee"></div>
<div class="mz" style="left:860px;top:482px;width:6px;height:6px;background:#dddddd"></div>
<div class="mz" style="left:866px;top:482px;width:6px;height:6px;background:#a3a3a3"></div>
<div class="mz" style="left:872px;top:482px;width:6px;height:6px;background:#808080"></div>
<div class="mz" style="left:878px;top:482px;width:6px;height:6px;background:#c2c2c2"></div>
<div class="mz" style="left:843px;top:488px;width:6px;height:6px;background:#eeeeee"></div>
<div class="mz" style="left:843px;top:517px;width:6px;height:6px;background:#dddddd"></div>
<div class="mz" style="left:872px;top:517px;width:6px;height:6px;background:#dddddd"></div>
<div class="mz" style="left:878px;top:517px;width:6px;height:6px;background:#808080"></div>
<div class="mz" style="left:872px;top:523px;width:6px;height:6px;background:#c2c2c2"></div>
<div class="mz" style="left:831px;top:552px;width:6px;height:6px;background:#dddddd"></div>
<div class="mz" style="left:843px;top:552px;width:6px;height:6px;background:#a3a3a3"></div>
<div class="mz" style="left:849px;top:552px;width:6px;height:6px;background:#eeeeee"></div>
<div class="mz" style="left:866px;top:552px;width:12px;height:6px;background:#dddddd"></div>
<div class="mz" style="left:878px;top:552px;width:6px;height:6px;background:#808080"></div>
<div class="mz" style="left:831px;top:588px;width:6px;height:5px;background:#c2c2c2"></div>
<div class="mz" style="left:843px;top:588px;width:6px;height:5px;background:#a3a3a3"></div>
<div class="mz" style="left:849px;top:588px;width:6px;height:5px;background:#eeeeee"></div>
<div class="mz" style="left:855px;top:588px;width:5px;height:5px;background:#dddddd"></div>
<div class="mz" style="left:866px;top:588px;width:6px;height:5px;background:#c2c2c2"></div>
<div class="mz" style="left:872px;top:588px;width:6px;height:5px;background:#808080"></div>
<div class="mz" style="left:878px;top:588px;width:6px;height:5px;background:#c2c2c2"></div>
<div class="mz" style="left:831px;top:617px;width:6px;height:6px;background:#eeeeee"></div>
<div class="mz" style="left:843px;top:617px;width:6px;height:6px;background:#f8f8f8"></div>
<div class="mz" style="left:849px;top:617px;width:6px;height:6px;background:#dddddd"></div>
<div class="mz" style="left:855px;top:617px;width:5px;height:6px;background:#eeeeee"></div>
<div class="mz" style="left:860px;top:617px;width:6px;height:6px;background:#dddddd"></div>
<div class="mz" style="left:866px;top:617px;width:6px;height:6px;background:#a3a3a3"></div>
<div class="mz" style="left:872px;top:617px;width:6px;height:6px;background:#808080"></div>
<div class="mz" style="left:878px;top:617px;width:6px;height:6px;background:#c2c2c2"></div>
<div class="mz" style="left:843px;top:623px;width:6px;height:5px;background:#eeeeee"></div>
<div class="mz" style="left:843px;top:652px;width:6px;height:6px;background:#dddddd"></div>
<div class="mz" style="left:872px;top:652px;width:6px;height:6px;background:#dddddd"></div>
<div class="mz" style="left:878px;top:652px;width:6px;height:6px;background:#808080"></div>
<div class="mz" style="left:872px;top:658px;width:6px;height:6px;background:#c2c2c2"></div>
<div class="mz" style="left:831px;top:687px;width:6px;height:6px;background:#dddddd"></div>
<div class="mz" style="left:843px;top:687px;width:6px;height:6px;background:#a3a3a3"></div>
<div class="mz" style="left:849px;top:687px;width:6px;height:6px;background:#eeeeee"></div>
<div class="mz" style="left:866px;top:687px;width:12px;height:6px;background:#dddddd"></div>
<div class="mz" style="left:878px;top:687px;width:6px;height:6px;background:#808080"></div>
<div class="mz" style="left:831px;top:722px;width:6px;height:6px;background:#c2c2c2"></div>
<div class="mz" style="left:843px;top:722px;width:6px;height:6px;background:#a3a3a3"></div>
<div class="mz" style="left:849px;top:722px;width:6px;height:6px;background:#eeeeee"></div>
<div class="mz" style="left:855px;top:722px;width:5px;height:6px;background:#dddddd"></div>
<div class="mz" style="left:866px;top:722px;width:6px;height:6px;background:#c2c2c2"></div>
<div class="mz" style="left:872px;top:722px;width:6px;height:6px;background:#808080"></div>
<div class="mz" style="left:878px;top:722px;width:6px;height:6px;background:#c2c2c2"></div>
<div class="mz" style="left:972px;top:412px;width:6px;height:6px;background:#a878f5"></div>
<div class="mz" style="left:978px;top:412px;width:5px;height:6px;background:#c6a6f8"></div>
<div class="mz" style="left:983px;top:412px;width:12px;height:6px;background:#8035f1"></div>
<div class="mz" style="left:995px;top:412px;width:6px;height:6px;background:#f8f8f8"></div>
<div class="mz" style="left:978px;top:418px;width:5px;height:6px;background:#8035f1"></div>
<div class="mz" style="left:989px;top:418px;width:6px;height:6px;background:#dfd0fc"></div>
<div class="mz" style="left:995px;top:418px;width:6px;height:6px;background:#c6a6f8"></div>
<div class="mz" style="left:1019px;top:418px;width:5px;height:6px;background:#c6a6f8"></div>
<div class="mz" style="left:978px;top:447px;width:5px;height:6px;background:#c2c2c2"></div>
<div class="mz" style="left:972px;top:482px;width:6px;height:6px;background:#dfd0fc"></div>
<div class="mz" style="left:978px;top:482px;width:5px;height:6px;background:#f1eafe"></div>
<div class="mz" style="left:989px;top:482px;width:6px;height:6px;background:#9050f3"></div>
<div class="mz" style="left:995px;top:482px;width:6px;height:6px;background:#a878f5"></div>
<div class="mz" style="left:972px;top:517px;width:6px;height:6px;background:#9050f3"></div>
<div class="mz" style="left:978px;top:517px;width:5px;height:6px;background:#f1eafe"></div>
<div class="mz" style="left:995px;top:517px;width:6px;height:6px;background:#a878f5"></div>
<div class="mz" style="left:972px;top:547px;width:6px;height:5px;background:#dfd0fc"></div>
<div class="mz" style="left:978px;top:547px;width:17px;height:5px;background:#9050f3"></div>
<div class="mz" style="left:1001px;top:547px;width:6px;height:5px;background:#f8f8f8"></div>
<div class="mz" style="left:1030px;top:547px;width:6px;height:5px;background:#8035f1"></div>
<div class="mz" style="left:972px;top:552px;width:6px;height:6px;background:#dfd0fc"></div>
<div class="mz" style="left:995px;top:552px;width:6px;height:6px;background:#8035f1"></div>
<div class="mz" style="left:1001px;top:552px;width:12px;height:6px;background:#9050f3"></div>
<div class="mz" style="left:1013px;top:552px;width:6px;height:6px;background:#dfd0fc"></div>
<div class="mz" style="left:1019px;top:552px;width:5px;height:6px;background:#9050f3"></div>
<div class="mz" style="left:972px;top:582px;width:6px;height:6px;background:#dfd0fc"></div>
<div class="mz" style="left:978px;top:582px;width:5px;height:6px;background:#a878f5"></div>
<div class="mz" style="left:989px;top:582px;width:6px;height:6px;background:#dfd0fc"></div>
<div class="mz" style="left:995px;top:582px;width:6px;height:6px;background:#9050f3"></div>
<div class="mz" style="left:1007px;top:582px;width:6px;height:6px;background:#a878f5"></div>
<div class="mz" style="left:972px;top:588px;width:17px;height:5px;background:#f1eafe"></div>
<div class="mz" style="left:989px;top:588px;width:6px;height:5px;background:#c6a6f8"></div>
<div class="mz" style="left:995px;top:588px;width:6px;height:5px;background:#9050f3"></div>
<div class="mz" style="left:1007px;top:588px;width:6px;height:5px;background:#f1eafe"></div>
<div class="mz" style="left:1013px;top:588px;width:6px;height:5px;background:#f8f8f8"></div>
<div class="mz" style="left:972px;top:617px;width:6px;height:6px;background:#dfd0fc"></div>
<div class="mz" style="left:978px;top:617px;width:5px;height:6px;background:#f1eafe"></div>
<div class="mz" style="left:983px;top:617px;width:6px;height:6px;background:#c6a6f8"></div>
<div class="mz" style="left:995px;top:617px;width:6px;height:6px;background:#dfd0fc"></div>
<div class="mz" style="left:1001px;top:617px;width:6px;height:6px;background:#9050f3"></div>
<div class="mz" style="left:1007px;top:617px;width:6px;height:6px;background:#dfd0fc"></div>
<div class="mz" style="left:972px;top:652px;width:6px;height:6px;background:#9050f3"></div>
<div class="mz" style="left:978px;top:652px;width:5px;height:6px;background:#f1eafe"></div>
<div class="mz" style="left:989px;top:652px;width:6px;height:6px;background:#f8f8f8"></div>
<div class="mz" style="left:995px;top:652px;width:6px;height:6px;background:#9050f3"></div>
<div class="mz" style="left:978px;top:681px;width:5px;height:6px;background:#808080"></div>
<div class="mz" style="left:972px;top:687px;width:6px;height:6px;background:#eeeeee"></div>
<div class="mz" style="left:983px;top:687px;width:6px;height:6px;background:#eeeeee"></div>
<div class="mz" style="left:978px;top:716px;width:5px;height:6px;background:#c2c2c2"></div>
<div class="mz" style="left:1106px;top:412px;width:6px;height:6px;background:#eeeeee"></div>
<div class="mz" style="left:1106px;top:418px;width:12px;height:6px;background:#dddddd"></div>
<div class="mz" style="left:1118px;top:418px;width:6px;height:6px;background:#c2c2c2"></div>
<div class="mz" style="left:1130px;top:418px;width:11px;height:6px;background:#eeeeee"></div>
<div class="mz" style="left:1141px;top:418px;width:6px;height:6px;background:#808080"></div>
<div class="mz" style="left:1153px;top:418px;width:12px;height:6px;background:#808080"></div>
<div class="mz" style="left:1112px;top:453px;width:6px;height:6px;background:#c2c2c2"></div>
<div class="mz" style="left:1106px;top:482px;width:6px;height:6px;background:#dddddd"></div>
<div class="mz" style="left:1112px;top:482px;width:6px;height:6px;background:#a3a3a3"></div>
<div class="mz" style="left:1124px;top:482px;width:6px;height:6px;background:#f8f8f8"></div>
<div class="mz" style="left:1130px;top:482px;width:11px;height:6px;background:#dddddd"></div>
<div class="mz" style="left:1141px;top:482px;width:6px;height:6px;background:#c2c2c2"></div>
<div class="mz" style="left:1147px;top:482px;width:6px;height:6px;background:#f8f8f8"></div>
<div class="mz" style="left:1159px;top:482px;width:6px;height:6px;background:#808080"></div>
<div class="mz" style="left:1106px;top:517px;width:6px;height:6px;background:#808080"></div>
<div class="mz" style="left:1112px;top:517px;width:6px;height:6px;background:#a3a3a3"></div>
<div class="mz" style="left:1118px;top:517px;width:6px;height:6px;background:#eeeeee"></div>
<div class="mz" style="left:1124px;top:517px;width:6px;height:6px;background:#dddddd"></div>
<div class="mz" style="left:1130px;top:517px;width:5px;height:6px;background:#c2c2c2"></div>
<div class="mz" style="left:1135px;top:517px;width:6px;height:6px;background:#5c5c5c"></div>
<div class="mz" style="left:1141px;top:517px;width:6px;height:6px;background:#c2c2c2"></div>
<div class="mz" style="left:1159px;top:517px;width:6px;height:6px;background:#a3a3a3"></div>
<div class="mz" style="left:1106px;top:547px;width:6px;height:5px;background:#5c5c5c"></div>
<div class="mz" style="left:1106px;top:552px;width:12px;height:6px;background:#dddddd"></div>
<div class="mz" style="left:1118px;top:552px;width:12px;height:6px;background:#f8f8f8"></div>
<div class="mz" style="left:1106px;top:582px;width:6px;height:6px;background:#dddddd"></div>
<div class="mz" style="left:1112px;top:582px;width:6px;height:6px;background:#a3a3a3"></div>
<div class="mz" style="left:1135px;top:582px;width:6px;height:6px;background:#dddddd"></div>
<div class="mz" style="left:1141px;top:582px;width:6px;height:6px;background:#c2c2c2"></div>
<div class="mz" style="left:1106px;top:588px;width:6px;height:5px;background:#dddddd"></div>
<div class="mz" style="left:1112px;top:588px;width:6px;height:5px;background:#a3a3a3"></div>
<div class="mz" style="left:1124px;top:588px;width:6px;height:5px;background:#f8f8f8"></div>
<div class="mz" style="left:1130px;top:588px;width:5px;height:5px;background:#c2c2c2"></div>
<div class="mz" style="left:1135px;top:588px;width:6px;height:5px;background:#dddddd"></div>
<div class="mz" style="left:1141px;top:588px;width:6px;height:5px;background:#c2c2c2"></div>
<div class="mz" style="left:1147px;top:588px;width:6px;height:5px;background:#eeeeee"></div>
<div class="mz" style="left:1159px;top:588px;width:6px;height:5px;background:#a3a3a3"></div>
<div class="mz" style="left:1112px;top:617px;width:6px;height:6px;background:#5c5c5c"></div>
<div class="mz" style="left:1118px;top:617px;width:12px;height:6px;background:#eeeeee"></div>
<div class="mz" style="left:1141px;top:617px;width:12px;height:6px;background:#808080"></div>
<div class="mz" style="left:1153px;top:617px;width:6px;height:6px;background:#dddddd"></div>
<div class="mz" style="left:1159px;top:617px;width:6px;height:6px;background:#eeeeee"></div>
<div class="mz" style="left:1171px;top:617px;width:11px;height:6px;background:#eeeeee"></div>
<div class="mz" style="left:1112px;top:652px;width:6px;height:6px;background:#a3a3a3"></div>
<div class="mz" style="left:1124px;top:652px;width:6px;height:6px;background:#f8f8f8"></div>
<div class="mz" style="left:1130px;top:652px;width:11px;height:6px;background:#808080"></div>
<div class="mz" style="left:1135px;top:658px;width:6px;height:6px;background:#eeeeee"></div>
<div class="mz" style="left:1106px;top:687px;width:6px;height:6px;background:#eeeeee"></div>
<div class="mz" style="left:1112px;top:687px;width:6px;height:6px;background:#a3a3a3"></div>
<div class="mz" style="left:1118px;top:687px;width:6px;height:6px;background:#eeeeee"></div>
<div class="mz" style="left:1112px;top:722px;width:6px;height:6px;background:#c2c2c2"></div>
<div class="mz" style="left:1253px;top:412px;width:6px;height:6px;background:#f8f8f8"></div>
<div class="mz" style="left:1259px;top:412px;width:6px;height:6px;background:#a878f5"></div>
<div class="mz" style="left:1265px;top:412px;width:17px;height:6px;background:#8035f1"></div>
<div class="mz" style="left:1282px;top:412px;width:6px;height:6px;background:#a878f5"></div>
<div class="mz" style="left:1288px;top:412px;width:6px;height:6px;background:#dfd0fc"></div>
<div class="mz" style="left:1247px;top:418px;width:6px;height:6px;background:#c6a6f8"></div>
<div class="mz" style="left:1253px;top:418px;width:6px;height:6px;background:#9050f3"></div>
<div class="mz" style="left:1259px;top:418px;width:6px;height:6px;background:#f1eafe"></div>
<div class="mz" style="left:1247px;top:482px;width:12px;height:6px;background:#c6a6f8"></div>
<div class="mz" style="left:1259px;top:482px;width:6px;height:6px;background:#9050f3"></div>
<div class="mz" style="left:1265px;top:482px;width:5px;height:6px;background:#dfd0fc"></div>
<div class="mz" style="left:1270px;top:482px;width:6px;height:6px;background:#f8f8f8"></div>
<div class="mz" style="left:1282px;top:482px;width:6px;height:6px;background:#a878f5"></div>
<div class="mz" style="left:1288px;top:482px;width:6px;height:6px;background:#9050f3"></div>
<div class="mz" style="left:1294px;top:482px;width:6px;height:6px;background:#dfd0fc"></div>
<div class="mz" style="left:1247px;top:517px;width:12px;height:6px;background:#c6a6f8"></div>
<div class="mz" style="left:1259px;top:517px;width:6px;height:6px;background:#9050f3"></div>
<div class="mz" style="left:1265px;top:517px;width:5px;height:6px;background:#c6a6f8"></div>
<div class="mz" style="left:1270px;top:517px;width:12px;height:6px;background:#f1eafe"></div>
<div class="mz" style="left:1288px;top:517px;width:6px;height:6px;background:#f8f8f8"></div>
<div class="mz" style="left:1294px;top:517px;width:6px;height:6px;background:#f1eafe"></div>
<div class="mz" style="left:1253px;top:547px;width:6px;height:5px;background:#f1eafe"></div>
<div class="mz" style="left:1259px;top:547px;width:6px;height:5px;background:#8035f1"></div>
<div class="mz" style="left:1265px;top:547px;width:11px;height:5px;background:#9050f3"></div>
<div class="mz" style="left:1276px;top:547px;width:6px;height:5px;background:#8035f1"></div>
<div class="mz" style="left:1282px;top:547px;width:6px;height:5px;background:#a878f5"></div>
<div class="mz" style="left:1288px;top:547px;width:6px;height:5px;background:#dfd0fc"></div>
<div class="mz" style="left:1247px;top:552px;width:6px;height:6px;background:#c6a6f8"></div>
<div class="mz" style="left:1253px;top:552px;width:6px;height:6px;background:#8035f1"></div>
<div class="mz" style="left:1259px;top:552px;width:11px;height:6px;background:#f8f8f8"></div>
<div class="mz" style="left:1276px;top:552px;width:6px;height:6px;background:#c6a6f8"></div>
<div class="mz" style="left:1247px;top:582px;width:6px;height:6px;background:#dfd0fc"></div>
<div class="mz" style="left:1253px;top:582px;width:6px;height:6px;background:#9050f3"></div>
<div class="mz" style="left:1259px;top:582px;width:6px;height:6px;background:#c6a6f8"></div>
<div class="mz" style="left:1265px;top:582px;width:5px;height:6px;background:#f8f8f8"></div>
<div class="mz" style="left:1282px;top:582px;width:12px;height:6px;background:#a878f5"></div>
<div class="mz" style="left:1294px;top:582px;width:6px;height:6px;background:#9050f3"></div>
<div class="mz" style="left:1300px;top:582px;width:6px;height:6px;background:#c6a6f8"></div>
<div class="mz" style="left:1247px;top:588px;width:6px;height:5px;background:#f8f8f8"></div>
<div class="mz" style="left:1253px;top:588px;width:6px;height:5px;background:#a878f5"></div>
<div class="mz" style="left:1259px;top:588px;width:6px;height:5px;background:#9050f3"></div>
<div class="mz" style="left:1265px;top:588px;width:5px;height:5px;background:#c6a6f8"></div>
<div class="mz" style="left:1270px;top:588px;width:6px;height:5px;background:#f1eafe"></div>
<div class="mz" style="left:1276px;top:588px;width:6px;height:5px;background:#dfd0fc"></div>
<div class="mz" style="left:1247px;top:652px;width:6px;height:6px;background:#c6a6f8"></div>
<div class="mz" style="left:1253px;top:652px;width:12px;height:6px;background:#9050f3"></div>
<div class="mz" style="left:1276px;top:652px;width:6px;height:6px;background:#f8f8f8"></div>
<div class="mz" style="left:1288px;top:652px;width:6px;height:6px;background:#f8f8f8"></div>
<div class="mz" style="left:1294px;top:652px;width:6px;height:6px;background:#f1eafe"></div>
<div class="mz" style="left:1247px;top:687px;width:18px;height:6px;background:#eeeeee"></div>
<div class="mz" style="left:1387px;top:412px;width:6px;height:6px;background:#eeeeee"></div>
<div class="mz" style="left:1381px;top:418px;width:6px;height:6px;background:#eeeeee"></div>
<div class="mz" style="left:1393px;top:418px;width:6px;height:6px;background:#eeeeee"></div>
<div class="mz" style="left:1387px;top:447px;width:6px;height:6px;background:#a3a3a3"></div>
<div class="mz" style="left:1387px;top:482px;width:6px;height:6px;background:#a3a3a3"></div>
<div class="mz" style="left:1387px;top:517px;width:6px;height:6px;background:#eeeeee"></div>
<div class="mz" style="left:1387px;top:547px;width:6px;height:5px;background:#eeeeee"></div>
<div class="mz" style="left:1381px;top:552px;width:6px;height:6px;background:#eeeeee"></div>
<div class="mz" style="left:1393px;top:552px;width:6px;height:6px;background:#eeeeee"></div>
<div class="mz" style="left:1387px;top:582px;width:6px;height:6px;background:#a3a3a3"></div>
<div class="mz" style="left:1381px;top:617px;width:6px;height:6px;background:#c6a6f8"></div>
<div class="mz" style="left:1399px;top:617px;width:6px;height:6px;background:#dfd0fc"></div>
<div class="mz" style="left:1405px;top:617px;width:5px;height:6px;background:#a878f5"></div>
<div class="mz" style="left:1410px;top:617px;width:6px;height:6px;background:#9050f3"></div>
<div class="mz" style="left:1416px;top:617px;width:6px;height:6px;background:#f1eafe"></div>
<div class="mz" style="left:1428px;top:617px;width:6px;height:6px;background:#f1eafe"></div>
<div class="mz" style="left:1434px;top:617px;width:6px;height:6px;background:#9050f3"></div>
<div class="mz" style="left:1440px;top:617px;width:6px;height:6px;background:#f8f8f8"></div>
<div class="mz" style="left:1446px;top:617px;width:5px;height:6px;background:#f1eafe"></div>
<div class="mz" style="left:1451px;top:617px;width:6px;height:6px;background:#c6a6f8"></div>
<div class="mz" style="left:1457px;top:617px;width:6px;height:6px;background:#9050f3"></div>
<div class="mz" style="left:1463px;top:617px;width:6px;height:6px;background:#a878f5"></div>
<div class="mz" style="left:1469px;top:617px;width:6px;height:6px;background:#c6a6f8"></div>
<div class="mz" style="left:1475px;top:617px;width:6px;height:6px;background:#dfd0fc"></div>
<div class="mz" style="left:1481px;top:617px;width:5px;height:6px;background:#f1eafe"></div>
<div class="mz" style="left:1492px;top:617px;width:6px;height:6px;background:#9050f3"></div>
<div class="mz" style="left:1434px;top:623px;width:6px;height:5px;background:#9050f3"></div>
<div class="mz" style="left:1387px;top:652px;width:6px;height:6px;background:#eeeeee"></div>
<div class="mz" style="left:1387px;top:681px;width:6px;height:6px;background:#eeeeee"></div>
<div class="mz" style="left:1381px;top:687px;width:6px;height:6px;background:#eeeeee"></div>
<div class="mz" style="left:1393px;top:687px;width:6px;height:6px;background:#eeeeee"></div>
<div class="mz" style="left:1387px;top:716px;width:6px;height:6px;background:#a3a3a3"></div>
<div class="mz" style="left:1604px;top:412px;width:6px;height:6px;background:#5c5c5c"></div>
<div class="mz" style="left:1604px;top:418px;width:6px;height:6px;background:#808080"></div>
<div class="mz" style="left:1604px;top:447px;width:6px;height:6px;background:#c2c2c2"></div>
<div class="mz" style="left:1604px;top:453px;width:6px;height:6px;background:#dddddd"></div>
<div class="mz" style="left:1604px;top:482px;width:6px;height:6px;background:#dddddd"></div>
<div class="mz" style="left:1604px;top:517px;width:6px;height:6px;background:#dddddd"></div>
<div class="mz" style="left:1604px;top:547px;width:6px;height:5px;background:#eeeeee"></div>
<div class="mz" style="left:1604px;top:552px;width:6px;height:6px;background:#dddddd"></div>
<div class="mz" style="left:1604px;top:582px;width:6px;height:6px;background:#a3a3a3"></div>
<div class="mz" style="left:1604px;top:588px;width:6px;height:5px;background:#dddddd"></div>
<div class="mz" style="left:1604px;top:617px;width:6px;height:6px;background:#dddddd"></div>
<div class="mz" style="left:1604px;top:652px;width:6px;height:6px;background:#dddddd"></div>
<div class="mz" style="left:1604px;top:681px;width:6px;height:6px;background:#eeeeee"></div>
<div class="mz" style="left:1604px;top:687px;width:6px;height:6px;background:#dddddd"></div>
<div class="mz" style="left:1604px;top:716px;width:6px;height:6px;background:#a3a3a3"></div>
<div class="mz" style="left:1604px;top:722px;width:6px;height:6px;background:#dddddd"></div>
<div class="mz" style="left:1738px;top:447px;width:6px;height:6px;background:#eeeeee"></div>
<div class="mz" style="left:1738px;top:582px;width:6px;height:6px;background:#eeeeee"></div>
<div class="mz" style="left:1738px;top:716px;width:6px;height:6px;background:#eeeeee"></div>
<div class="mz" style="left:1820px;top:412px;width:6px;height:6px;background:#a3a3a3"></div>
<div class="mz" style="left:1826px;top:412px;width:6px;height:6px;background:#808080"></div>
<div class="mz" style="left:1832px;top:412px;width:6px;height:6px;background:#5c5c5c"></div>
<div class="mz" style="left:1850px;top:412px;width:5px;height:6px;background:#f8f8f8"></div>
<div class="mz" style="left:1855px;top:412px;width:6px;height:6px;background:#dddddd"></div>
<div class="mz" style="left:1820px;top:418px;width:6px;height:6px;background:#eeeeee"></div>
<div class="mz" style="left:1844px;top:418px;width:6px;height:6px;background:#dddddd"></div>
<div class="mz" style="left:1850px;top:418px;width:5px;height:6px;background:#808080"></div>
<div class="mz" style="left:1855px;top:418px;width:6px;height:6px;background:#a3a3a3"></div>
<div class="mz" style="left:1820px;top:447px;width:6px;height:6px;background:#dddddd"></div>
<div class="mz" style="left:1838px;top:447px;width:12px;height:6px;background:#f8f8f8"></div>
<div class="mz" style="left:1850px;top:447px;width:11px;height:6px;background:#a3a3a3"></div>
<div class="mz" style="left:1820px;top:453px;width:6px;height:6px;background:#dddddd"></div>
<div class="mz" style="left:1826px;top:453px;width:6px;height:6px;background:#808080"></div>
<div class="mz" style="left:1832px;top:453px;width:6px;height:6px;background:#c2c2c2"></div>
<div class="mz" style="left:1850px;top:453px;width:5px;height:6px;background:#dddddd"></div>
<div class="mz" style="left:1855px;top:453px;width:6px;height:6px;background:#808080"></div>
<div class="mz" style="left:1820px;top:482px;width:6px;height:6px;background:#dddddd"></div>
<div class="mz" style="left:1838px;top:482px;width:12px;height:6px;background:#eeeeee"></div>
<div class="mz" style="left:1850px;top:482px;width:5px;height:6px;background:#808080"></div>
<div class="mz" style="left:1855px;top:482px;width:6px;height:6px;background:#c2c2c2"></div>
<div class="mz" style="left:1820px;top:517px;width:6px;height:6px;background:#eeeeee"></div>
<div class="mz" style="left:1826px;top:517px;width:6px;height:6px;background:#c2c2c2"></div>
<div class="mz" style="left:1832px;top:517px;width:12px;height:6px;background:#eeeeee"></div>
<div class="mz" style="left:1844px;top:517px;width:6px;height:6px;background:#f8f8f8"></div>
<div class="mz" style="left:1850px;top:517px;width:5px;height:6px;background:#808080"></div>
<div class="mz" style="left:1855px;top:517px;width:6px;height:6px;background:#c2c2c2"></div>
<div class="mz" style="left:1820px;top:547px;width:6px;height:5px;background:#dddddd"></div>
<div class="mz" style="left:1826px;top:547px;width:6px;height:5px;background:#808080"></div>
<div class="mz" style="left:1832px;top:547px;width:6px;height:5px;background:#5c5c5c"></div>
<div class="mz" style="left:1850px;top:547px;width:5px;height:5px;background:#f8f8f8"></div>
<div class="mz" style="left:1855px;top:547px;width:6px;height:5px;background:#dddddd"></div>
<div class="mz" style="left:1820px;top:552px;width:6px;height:6px;background:#dddddd"></div>
<div class="mz" style="left:1838px;top:552px;width:12px;height:6px;background:#eeeeee"></div>
<div class="mz" style="left:1850px;top:552px;width:5px;height:6px;background:#808080"></div>
<div class="mz" style="left:1855px;top:552px;width:6px;height:6px;background:#a3a3a3"></div>
<div class="mz" style="left:1820px;top:582px;width:6px;height:6px;background:#dddddd"></div>
<div class="mz" style="left:1838px;top:582px;width:12px;height:6px;background:#f8f8f8"></div>
<div class="mz" style="left:1850px;top:582px;width:11px;height:6px;background:#a3a3a3"></div>
<div class="mz" style="left:1820px;top:588px;width:6px;height:5px;background:#dddddd"></div>
<div class="mz" style="left:1826px;top:588px;width:6px;height:5px;background:#808080"></div>
<div class="mz" style="left:1832px;top:588px;width:6px;height:5px;background:#c2c2c2"></div>
<div class="mz" style="left:1850px;top:588px;width:5px;height:5px;background:#dddddd"></div>
<div class="mz" style="left:1855px;top:588px;width:6px;height:5px;background:#808080"></div>
<div class="mz" style="left:1820px;top:617px;width:6px;height:6px;background:#dddddd"></div>
<div class="mz" style="left:1838px;top:617px;width:12px;height:6px;background:#eeeeee"></div>
<div class="mz" style="left:1850px;top:617px;width:5px;height:6px;background:#808080"></div>
<div class="mz" style="left:1855px;top:617px;width:6px;height:6px;background:#c2c2c2"></div>
<div class="mz" style="left:1820px;top:652px;width:6px;height:6px;background:#eeeeee"></div>
<div class="mz" style="left:1826px;top:652px;width:6px;height:6px;background:#c2c2c2"></div>
<div class="mz" style="left:1832px;top:652px;width:12px;height:6px;background:#eeeeee"></div>
<div class="mz" style="left:1844px;top:652px;width:6px;height:6px;background:#f8f8f8"></div>
<div class="mz" style="left:1850px;top:652px;width:5px;height:6px;background:#808080"></div>
<div class="mz" style="left:1855px;top:652px;width:6px;height:6px;background:#c2c2c2"></div>
<div class="mz" style="left:1820px;top:681px;width:6px;height:6px;background:#dddddd"></div>
<div class="mz" style="left:1826px;top:681px;width:6px;height:6px;background:#808080"></div>
<div class="mz" style="left:1832px;top:681px;width:6px;height:6px;background:#5c5c5c"></div>
<div class="mz" style="left:1850px;top:681px;width:5px;height:6px;background:#f8f8f8"></div>
<div class="mz" style="left:1855px;top:681px;width:6px;height:6px;background:#dddddd"></div>
<div class="mz" style="left:1820px;top:687px;width:6px;height:6px;background:#dddddd"></div>
<div class="mz" style="left:1838px;top:687px;width:12px;height:6px;background:#eeeeee"></div>
<div class="mz" style="left:1850px;top:687px;width:5px;height:6px;background:#808080"></div>
<div class="mz" style="left:1855px;top:687px;width:6px;height:6px;background:#a3a3a3"></div>
<div class="mz" style="left:1820px;top:716px;width:6px;height:6px;background:#dddddd"></div>
<div class="mz" style="left:1838px;top:716px;width:12px;height:6px;background:#f8f8f8"></div>
<div class="mz" style="left:1850px;top:716px;width:11px;height:6px;background:#a3a3a3"></div>
<div class="mz" style="left:1820px;top:722px;width:6px;height:6px;background:#dddddd"></div>
<div class="mz" style="left:1826px;top:722px;width:6px;height:6px;background:#808080"></div>
<div class="mz" style="left:1832px;top:722px;width:6px;height:6px;background:#c2c2c2"></div>
<div class="mz" style="left:1850px;top:722px;width:5px;height:6px;background:#dddddd"></div>
<div class="mz" style="left:1855px;top:722px;width:6px;height:6px;background:#808080"></div>
<!-- right border line -->
<div class="abs" style="left:1909.5px;top:401px;width:1px;height:338px;background:#ececec"></div>
<!-- scrollbar -->
<div class="abs" style="left:315px;top:739.5px;width:1595px;height:13px;background:#f1f1f1"></div>
<div class="abs" style="left:331px;top:740.5px;width:1138px;height:9.5px;background:#c1c1c1"></div>
<svg class="ic" style="left:320.5px;top:741.5px" width="5" height="7" viewBox="0 0 5 7"><path d="M4.5 0 V7 L0.5 3.5 Z" fill="#505050"/></svg>
<svg class="ic" style="left:1899.5px;top:741.5px" width="5" height="7" viewBox="0 0 5 7"><path d="M0.5 0 V7 L4.5 3.5 Z" fill="#505050"/></svg>

<!-- pagination -->
<div class="abs" style="left:315.2px;top:761.1px;width:147px;height:36.2px;border:1px solid #d9d9d9;border-radius:2px"></div>
<svg class="ic" style="left:443px;top:776.5px" width="9" height="6" viewBox="0 0 9 6"><path d="M0.5 0.8 L4.5 4.8 L8.5 0.8" fill="none" stroke="#a6a6a6" stroke-width="1.1"/></svg>
<div class="abs" style="left:464.8px;top:761.1px;width:147.5px;height:36.2px;border:1px solid #d9d9d9;border-radius:2px"></div>
<div class="abs" style="left:538.8px;top:761.1px;width:1px;height:36.2px;background:#d9d9d9"></div>
<div class="abs" style="left:575.6px;top:761.1px;width:1px;height:36.2px;background:#d9d9d9"></div>
<div class="abs" style="left:501px;top:761.1px;width:38px;height:36.2px;border:1px solid #8035f1;border-radius:2px"></div>
<svg class="ic" style="left:480px;top:775px" width="6" height="9" viewBox="0 0 6 9"><path d="M5 0.5 L1 4.5 L5 8.5" fill="none" stroke="#bfbfbf" stroke-width="1.1"/></svg>
<svg class="ic" style="left:591px;top:775px" width="6" height="9" viewBox="0 0 6 9"><path d="M1 0.5 L5 4.5 L1 8.5" fill="none" stroke="#595959" stroke-width="1.1"/></svg>
<div class="t" style="left:122.64px;top:313.94px;font-size:12px;line-height:17px;color:#606060;font-weight:400;transform:scaleX(0.9561)">Dashboard</div>
<div class="t" style="left:119.35px;top:353.41px;font-size:12px;line-height:17px;color:#606060;font-weight:400;transform:scaleX(0.9500)">Segment Builder</div>
<div class="t" style="left:119.53px;top:392.88px;font-size:12px;line-height:17px;color:#606060;font-weight:400;transform:scaleX(0.9658)">Data Ingestion</div>
<div class="t" style="left:120.50px;top:432.35px;font-size:12px;line-height:17px;color:#606060;font-weight:400;transform:scaleX(0.9750)">Task Monitoring</div>
<div class="t" style="left:120.50px;top:471.82px;font-size:12px;line-height:17px;color:#606060;font-weight:400;transform:scaleX(0.9349)">Journey</div>
<div class="t" style="left:120.50px;top:511.29px;font-size:12px;line-height:17px;color:#606060;font-weight:400;transform:scaleX(0.9644)">Tracking</div>
<div class="t" style="left:119.52px;top:550.76px;font-size:12px;line-height:17px;color:#606060;font-weight:400;transform:scaleX(0.9822)">Identifier</div>
<div class="t" style="left:120.50px;top:590.23px;font-size:12px;line-height:17px;color:#606060;font-weight:400;transform:scaleX(0.9711)">Activity</div>
<div class="t" style="left:119.54px;top:629.70px;font-size:12px;line-height:17px;color:#606060;font-weight:400;transform:scaleX(0.9638)">Prospect</div>
<div class="t" style="left:120.50px;top:669.17px;font-size:12px;line-height:17px;color:#606060;font-weight:400;transform:scaleX(0.9381)">Contact</div>
<div class="t" style="left:120.50px;top:708.64px;font-size:12px;line-height:17px;color:#606060;font-weight:400;transform:scaleX(0.9442)">Customer</div>
<div class="t" style="left:120.50px;top:748.11px;font-size:12px;line-height:17px;color:#9254f0;font-weight:400;transform:scaleX(0.9645)">Transaction</div>
<div class="t" style="left:120.50px;top:787.58px;font-size:12px;line-height:17px;color:#606060;font-weight:400;transform:scaleX(0.9352)">Abandoned Cart</div>
<div class="t" style="left:119.57px;top:827.05px;font-size:12px;line-height:17px;color:#9254f0;font-weight:400;transform:scaleX(0.9345)">Purchase Order</div>
<div class="t" style="left:154.90px;top:168.60px;font-size:12.4px;line-height:17px;color:#9254f0;font-weight:400;transform:scaleX(0.9033)">PangoCDP</div>
<div class="t" style="left:113.90px;top:185.37px;font-size:12.2px;line-height:17px;color:#5a5a5a;font-weight:400;transform:scaleX(0.9040)">Data Hub &amp; Segment (CDP)</div>
<div class="t" style="left:100.30px;top:241.08px;font-size:9.3px;line-height:13px;color:#a3a3a3;font-weight:700;transform:scaleX(0.9237)">MY PINS</div>
<div class="t" style="left:99.07px;top:278.84px;font-size:12px;line-height:17px;color:#bfbfbf;font-weight:400;transform:scaleX(0.9297)">Search</div>
<div class="t" style="left:356.60px;top:141.75px;font-size:14px;line-height:20px;color:#262626;font-weight:400;transform:scaleX(0.9236)">OAuth Connection: FacebookOAuth has been failed</div>
<div class="t" style="left:355.67px;top:161.04px;font-size:12px;line-height:17px;color:#8c8c8c;font-weight:400;transform:scaleX(0.9300)">FacebookOAuth: 1429707207540167&lt;Ricky Chou&gt; has already expired: Overdue 140 days. You have to re-authen your account to avoid any interuption.</div>
<div class="t" style="left:1813.83px;top:152.44px;font-size:12px;line-height:17px;color:#f5222d;font-weight:400;transform:scaleX(0.9677)">See all 156 alert(s)</div>
<div class="t" style="left:293.93px;top:195.94px;font-size:12px;line-height:17px;color:#999999;font-weight:400;transform:scaleX(0.9710)">Home</div>
<div class="t" style="left:332.40px;top:195.94px;font-size:12px;line-height:17px;color:#aaaaaa;font-weight:400;transform:scaleX(1.1000)">/</div>
<div class="t" style="left:344.10px;top:195.94px;font-size:12px;line-height:17px;color:#999999;font-weight:400;transform:scaleX(0.9613)">Transaction</div>
<div class="t" style="left:410.60px;top:195.94px;font-size:12px;line-height:17px;color:#aaaaaa;font-weight:400;transform:scaleX(1.0000)">/</div>
<div class="t" style="left:421.57px;top:195.94px;font-size:12px;line-height:17px;color:#595959;font-weight:400;transform:scaleX(0.9298)">Purchase Order</div>
<div class="t" style="left:314.80px;top:257.84px;font-size:12px;line-height:17px;color:#333333;font-weight:400;transform:scaleX(0.9615)">Contact Info</div>
<div class="t" style="left:647.70px;top:257.84px;font-size:12px;line-height:17px;color:#333333;font-weight:400;transform:scaleX(0.9182)">Order Id</div>
<div class="t" style="left:981.30px;top:257.84px;font-size:12px;line-height:17px;color:#333333;font-weight:400;transform:scaleX(0.9294)">Order Status</div>
<div class="t" style="left:323.81px;top:293.64px;font-size:12px;line-height:17px;color:#bfbfbf;font-weight:400;transform:scaleX(0.9949)">Information</div>
<div class="t" style="left:656.52px;top:293.64px;font-size:12px;line-height:17px;color:#bfbfbf;font-weight:400;transform:scaleX(0.9783)">Select(s)</div>
<div class="t" style="left:989.72px;top:293.64px;font-size:12px;line-height:17px;color:#bfbfbf;font-weight:400;transform:scaleX(0.9804)">Select(s)</div>
<div class="t" style="left:1345.50px;top:293.54px;font-size:12px;line-height:17px;color:#ffffff;font-weight:700;transform:scaleX(0.8750)">Search</div>
<div class="t" style="left:1429.80px;top:293.54px;font-size:12px;line-height:17px;color:#ffffff;font-weight:700;transform:scaleX(0.9250)">Item</div>
<div class="t" style="left:1500.00px;top:293.54px;font-size:12px;line-height:17px;color:#5f5f5f;font-weight:400;transform:scaleX(0.9981)">More filter</div>
<div class="t" style="left:341.96px;top:338.14px;font-size:12px;line-height:17px;color:#8c8c8c;font-weight:400;transform:scaleX(0.9364)">Found</div>
<div class="t" style="left:376.80px;top:338.14px;font-size:12px;line-height:17px;color:#333333;font-weight:700;transform:scaleX(0.9029)">19 record(s)</div>
<div class="t" style="left:442.00px;top:338.14px;font-size:12px;line-height:17px;color:#bfbfbf;font-weight:400;transform:scaleX(0.9500)">about 22 ms</div>
<div class="t" style="left:1658.70px;top:339.24px;font-size:12px;line-height:17px;color:#9254f0;font-weight:400;transform:scaleX(0.9319)">Order Creation Latest</div>
<div class="t" style="left:1807.96px;top:338.14px;font-size:12px;line-height:17px;color:#9254f0;font-weight:400;transform:scaleX(0.9432)">Display Fields</div>
<div class="t" style="left:323.72px;top:771.24px;font-size:12px;line-height:17px;color:#595959;font-weight:400;transform:scaleX(0.9750)">10 records / page</div>
<div class="t" style="left:515.93px;top:771.14px;font-size:12px;line-height:17px;color:#8035f1;font-weight:400;transform:scaleX(0.8667)">1</div>
<div class="t" style="left:553.90px;top:771.14px;font-size:12px;line-height:17px;color:#595959;font-weight:400;transform:scaleX(0.9833)">2</div>
<div class="t" style="left:321.80px;top:376.94px;font-size:12px;line-height:17px;color:#3f3f3f;font-weight:400;transform:scaleX(0.9848)">Action</div>
<div class="t" style="left:420.50px;top:376.94px;font-size:12px;line-height:17px;color:#3f3f3f;font-weight:400;transform:scaleX(0.9043)">Order ID</div>
<div class="t" style="left:557.40px;top:376.94px;font-size:12px;line-height:17px;color:#3f3f3f;font-weight:400;transform:scaleX(0.9324)">Order Status</div>
<div class="t" style="left:728.40px;top:376.94px;font-size:12px;line-height:17px;color:#3f3f3f;font-weight:400;transform:scaleX(0.9271)">Order Date</div>
<div class="t" style="left:831.20px;top:376.94px;font-size:12px;line-height:17px;color:#3f3f3f;font-weight:400;transform:scaleX(0.9308)">Order Created At</div>
<div class="t" style="left:967.60px;top:376.94px;font-size:12px;line-height:17px;color:#3f3f3f;font-weight:400;transform:scaleX(0.9464)">Customer Code</div>
<div class="t" style="left:1104.60px;top:376.94px;font-size:12px;line-height:17px;color:#3f3f3f;font-weight:400;transform:scaleX(0.9621)">Customer Name</div>
<div class="t" style="left:1240.55px;top:376.94px;font-size:12px;line-height:17px;color:#3f3f3f;font-weight:400;transform:scaleX(0.9525)">Phone Number</div>
<div class="t" style="left:1377.33px;top:376.94px;font-size:12px;line-height:17px;color:#3f3f3f;font-weight:400;transform:scaleX(0.9655)">Email</div>
<div class="t" style="left:1586.80px;top:376.94px;font-size:12px;line-height:17px;color:#3f3f3f;font-weight:400;transform:scaleX(0.9778)">#Items</div>
<div class="t" style="left:1730.00px;top:376.94px;font-size:12px;line-height:17px;color:#3f3f3f;font-weight:400;transform:scaleX(0.9200)">#Qty</div>
<div class="t" style="left:1816.90px;top:376.94px;font-size:12px;line-height:17px;color:#3f3f3f;font-weight:400;transform:scaleX(0.9182)">Tnxn Cost</div>
</body></html>
